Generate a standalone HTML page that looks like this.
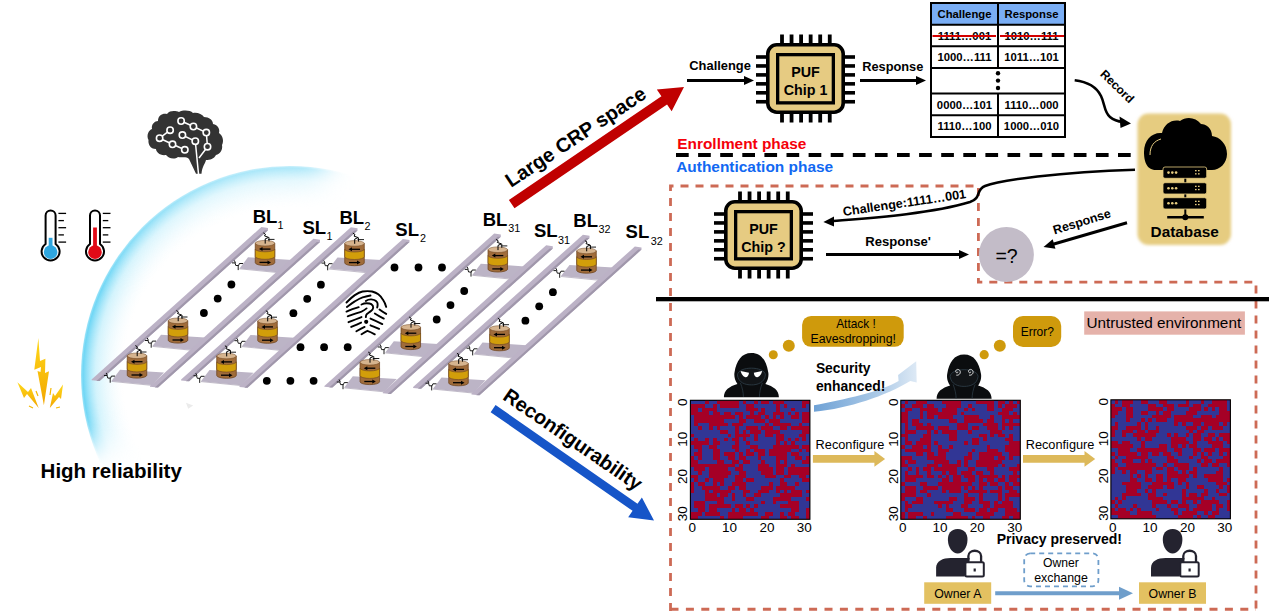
<!DOCTYPE html>
<html><head><meta charset="utf-8"><style>
html,body{margin:0;padding:0;background:#fff;width:1269px;height:611px;overflow:hidden}
svg{display:block}
text{font-family:"Liberation Sans",sans-serif}
</style></head><body>
<svg width="1269" height="611" viewBox="0 0 1269 611">
<defs>
<radialGradient id="arcg" cx="290" cy="375" r="209" gradientUnits="userSpaceOnUse">
<stop offset="0" stop-color="#fff" stop-opacity="0"/>
<stop offset="0.80" stop-color="#e8f8fe" stop-opacity="0"/>
<stop offset="0.93" stop-color="#a8e8fa" stop-opacity="0.5"/>
<stop offset="0.99" stop-color="#60d2f4" stop-opacity="0.9"/>
<stop offset="1" stop-color="#60d2f4" stop-opacity="0.6"/>
</radialGradient>
<linearGradient id="arcfade" gradientUnits="userSpaceOnUse" x1="0" y1="165" x2="0" y2="290"><stop offset="0" stop-color="#fff" stop-opacity="0.55"/><stop offset="1" stop-color="#fff" stop-opacity="1"/></linearGradient>
<filter id="mblur" x="-50%" y="-50%" width="200%" height="200%"><feGaussianBlur stdDeviation="14"/></filter>
<mask id="arcmask" maskUnits="userSpaceOnUse" x="0" y="0" width="700" height="611">
<polygon points="-50,-50 322,-50 322,185 170,440 -50,440" fill="url(#arcfade)" filter="url(#mblur)"/>
</mask>
</defs>
<circle cx="290" cy="375" r="209" fill="url(#arcg)" mask="url(#arcmask)"/>
<path d="M189,159 C186,156 182,158 178,157 C174,160 168,158 166,155 C160,156 156,152 156,149 C150,149 148,144 148.5,140 C146,135 149,130 152,129 C151,124 155,121 158,121 C158,115 163,113 167,114 C170,110 176,111 179,112 C183,110 190,110 193,113 C197,112 202,114 204,117 C209,117 213,120 213,124 C218,125 220,129 219,133 C223,136 224,141 222,145 C223,150 220,154 216,155 C214,159 210,160 206,160 C205,164 202,167 201.5,173.8 L196,173.8 Z" fill="#333"/>
<line x1="181.1" y1="121" x2="193.4" y2="126.5" stroke="#fff" stroke-width="1.5"/>
<line x1="193.4" y1="126.5" x2="206.3" y2="132.6" stroke="#fff" stroke-width="1.5"/>
<line x1="206.3" y1="132.6" x2="207.5" y2="146.7" stroke="#fff" stroke-width="1.5"/>
<line x1="170.1" y1="130.2" x2="159.6" y2="138.2" stroke="#fff" stroke-width="1.5"/>
<line x1="159.6" y1="138.2" x2="172.5" y2="144.3" stroke="#fff" stroke-width="1.5"/>
<line x1="172.5" y1="144.3" x2="184.8" y2="149.8" stroke="#fff" stroke-width="1.5"/>
<line x1="182.4" y1="135.1" x2="195.3" y2="141.2" stroke="#fff" stroke-width="1.5"/>
<path d="M195.3,141.2 L198.5,174 M207.5,146.7 L199,158" stroke="#fff" stroke-width="1.5" fill="none"/>
<circle cx="181.1" cy="121" r="3.2" fill="#333" stroke="#fff" stroke-width="1.6"/>
<circle cx="193.4" cy="126.5" r="3.2" fill="#333" stroke="#fff" stroke-width="1.6"/>
<circle cx="206.3" cy="132.6" r="3.2" fill="#333" stroke="#fff" stroke-width="1.6"/>
<circle cx="170.1" cy="130.2" r="3.2" fill="#333" stroke="#fff" stroke-width="1.6"/>
<circle cx="182.4" cy="135.1" r="3.2" fill="#333" stroke="#fff" stroke-width="1.6"/>
<circle cx="159.6" cy="138.2" r="3.2" fill="#333" stroke="#fff" stroke-width="1.6"/>
<circle cx="172.5" cy="144.3" r="3.2" fill="#333" stroke="#fff" stroke-width="1.6"/>
<circle cx="195.3" cy="141.2" r="3.2" fill="#333" stroke="#fff" stroke-width="1.6"/>
<circle cx="184.8" cy="149.8" r="3.2" fill="#333" stroke="#fff" stroke-width="1.6"/>
<circle cx="207.5" cy="146.7" r="3.2" fill="#333" stroke="#fff" stroke-width="1.6"/>
<path d="M45.6,244 L45.6,215.5 A5,5 0 0 1 55.6,215.5 L55.6,244 A9,9 0 1 1 45.6,244 Z" fill="#fff" stroke="#000" stroke-width="2"/>
<circle cx="50.6" cy="252.1" r="6.8" fill="#2ea6df"/>
<rect x="48.7" y="237.8" width="3.8" height="14.199999999999989" fill="#2ea6df"/>
<line x1="58.4" y1="213.4" x2="66.1" y2="213.4" stroke="#000" stroke-width="1.3"/>
<line x1="58.4" y1="220.6" x2="63.9" y2="220.6" stroke="#000" stroke-width="1.3"/>
<line x1="58.4" y1="227.7" x2="66.1" y2="227.7" stroke="#000" stroke-width="1.3"/>
<line x1="58.4" y1="234.9" x2="63.9" y2="234.9" stroke="#000" stroke-width="1.3"/>
<line x1="58.4" y1="242.1" x2="66.1" y2="242.1" stroke="#000" stroke-width="1.3"/>
<path d="M90,244 L90,215.5 A5,5 0 0 1 100,215.5 L100,244 A9,9 0 1 1 90,244 Z" fill="#fff" stroke="#000" stroke-width="2"/>
<circle cx="95" cy="252.1" r="6.8" fill="#e10a17"/>
<rect x="93.1" y="227.5" width="3.8" height="24.5" fill="#e10a17"/>
<line x1="102.8" y1="213.4" x2="110.5" y2="213.4" stroke="#000" stroke-width="1.3"/>
<line x1="102.8" y1="220.6" x2="108.3" y2="220.6" stroke="#000" stroke-width="1.3"/>
<line x1="102.8" y1="227.7" x2="110.5" y2="227.7" stroke="#000" stroke-width="1.3"/>
<line x1="102.8" y1="234.9" x2="108.3" y2="234.9" stroke="#000" stroke-width="1.3"/>
<line x1="102.8" y1="242.1" x2="110.5" y2="242.1" stroke="#000" stroke-width="1.3"/>
<defs><linearGradient id="ltg" x1="0" y1="0" x2="0" y2="1"><stop offset="0" stop-color="#ffd81a"/><stop offset="1" stop-color="#f2a600"/></linearGradient></defs>
<polygon points="38.4,338 34.3,369.8 41,367 40.5,372 37.5,371 43.9,405.2 49,371.3 45,373 45.4,358.7 40,361" fill="url(#ltg)"/>
<polygon points="17.4,382.3 24,398 27,394 38.7,408.1 31,388 28,392" fill="url(#ltg)"/>
<polygon points="63,384.5 55,396 53,393 49.8,408.1 59,397 61,399" fill="url(#ltg)"/>
<path d="M29,406 L33,408 M56,408 L60,407 M36,391 L38,396 M51,388 L50,395" stroke="#f5b800" stroke-width="1.2"/>
<text x="40.60" y="477.90" font-size="20.5" font-weight="bold" >High reliability</text>
<polygon points="261.40,227.00 268.00,228.00 268.00,230.20 99.60,381.00 91.60,380.20 91.60,379.40" fill="#bcb2c6" /><polygon points="264.80,230.20 268.00,230.20 99.60,381.00 96.40,381.00" fill="#a097ab" />
<polygon points="120.00,369.80 164.00,372.50 152.00,385.00 111.50,381.00" fill="#bcb4c6" /><line x1="111.50" y1="381.40" x2="152.00" y2="385.40" stroke="#a097ab" stroke-width="0.9" opacity="0.7"/>
<polygon points="161.00,334.80 205.00,337.50 193.00,350.00 152.50,346.00" fill="#bcb4c6" /><line x1="152.50" y1="346.40" x2="193.00" y2="350.40" stroke="#a097ab" stroke-width="0.9" opacity="0.7"/>
<polygon points="248.00,257.20 292.00,259.90 280.00,272.40 239.50,268.40" fill="#bcb4c6" /><line x1="239.50" y1="268.80" x2="280.00" y2="272.80" stroke="#a097ab" stroke-width="0.9" opacity="0.7"/>
<polygon points="313.40,238.70 320.00,239.70 320.00,241.90 158.00,387.50 150.00,386.70 150.00,385.90" fill="#bcb2c6" /><polygon points="316.80,241.90 320.00,241.90 158.00,387.50 154.80,387.50" fill="#a097ab" />
<path d="M104.00,375.50 h3 l0.8,2.6 h2.8 l0.8,-2 h3.6 M110.20,378.10 v4.6 M107.50,375.50 l-1.2,-2.5" fill="none" stroke="#000" stroke-width="0.9"/>
<path d="M127.25,355.80 L127.25,375.30 A9.75,2.8 0 0 0 146.75,375.30 L146.75,355.80 Z" fill="#a06c3a" stroke="#6e4520" stroke-width="0.8"/>
<path d="M127.25,361.60 A9.75,2.8 0 0 0 146.75,361.60 L146.75,369.10 A9.75,2.8 0 0 1 127.25,369.10 Z" fill="#d29e0a" stroke="#6e4520" stroke-width="0.6"/>
<ellipse cx="137.00" cy="355.80" rx="9.75" ry="2.8" fill="#d6b48e" stroke="#6e4520" stroke-width="0.5"/>
<path d="M142.50,361.70 L134.00,361.70" stroke="#000" stroke-width="1.3"/><polygon points="131.00,361.70 134.50,359.70 134.50,363.70" fill="#000"/>
<path d="M131.50,375.00 L140.00,375.00" stroke="#000" stroke-width="1.3"/><polygon points="143.00,375.00 139.50,373.00 139.50,377.00" fill="#000"/>
<path d="M135.40,345.50 L137.50,347.00 L136.50,348.50 L140.60,350.00 L137.20,351.50 L137.20,356.20" fill="none" stroke="#000" stroke-width="1"/>
<path d="M140.00,352.00 L146.50,352.00 M141.00,350.00 L141.00,354.00" fill="none" stroke="#000" stroke-width="0.9"/>
<path d="M145.00,340.50 h3 l0.8,2.6 h2.8 l0.8,-2 h3.6 M151.20,343.10 v4.6 M148.50,340.50 l-1.2,-2.5" fill="none" stroke="#000" stroke-width="0.9"/>
<path d="M168.25,320.80 L168.25,340.30 A9.75,2.8 0 0 0 187.75,340.30 L187.75,320.80 Z" fill="#a06c3a" stroke="#6e4520" stroke-width="0.8"/>
<path d="M168.25,326.60 A9.75,2.8 0 0 0 187.75,326.60 L187.75,334.10 A9.75,2.8 0 0 1 168.25,334.10 Z" fill="#d29e0a" stroke="#6e4520" stroke-width="0.6"/>
<ellipse cx="178.00" cy="320.80" rx="9.75" ry="2.8" fill="#d6b48e" stroke="#6e4520" stroke-width="0.5"/>
<path d="M183.50,326.70 L175.00,326.70" stroke="#000" stroke-width="1.3"/><polygon points="172.00,326.70 175.50,324.70 175.50,328.70" fill="#000"/>
<path d="M172.50,340.00 L181.00,340.00" stroke="#000" stroke-width="1.3"/><polygon points="184.00,340.00 180.50,338.00 180.50,342.00" fill="#000"/>
<path d="M176.40,310.50 L178.50,312.00 L177.50,313.50 L181.60,315.00 L178.20,316.50 L178.20,321.20" fill="none" stroke="#000" stroke-width="1"/>
<path d="M181.00,317.00 L187.50,317.00 M182.00,315.00 L182.00,319.00" fill="none" stroke="#000" stroke-width="0.9"/>
<path d="M232.00,262.90 h3 l0.8,2.6 h2.8 l0.8,-2 h3.6 M238.20,265.50 v4.6 M235.50,262.90 l-1.2,-2.5" fill="none" stroke="#000" stroke-width="0.9"/>
<path d="M255.25,243.20 L255.25,262.70 A9.75,2.8 0 0 0 274.75,262.70 L274.75,243.20 Z" fill="#a06c3a" stroke="#6e4520" stroke-width="0.8"/>
<path d="M255.25,249.00 A9.75,2.8 0 0 0 274.75,249.00 L274.75,256.50 A9.75,2.8 0 0 1 255.25,256.50 Z" fill="#d29e0a" stroke="#6e4520" stroke-width="0.6"/>
<ellipse cx="265.00" cy="243.20" rx="9.75" ry="2.8" fill="#d6b48e" stroke="#6e4520" stroke-width="0.5"/>
<path d="M270.50,249.10 L262.00,249.10" stroke="#000" stroke-width="1.3"/><polygon points="259.00,249.10 262.50,247.10 262.50,251.10" fill="#000"/>
<path d="M259.50,262.40 L268.00,262.40" stroke="#000" stroke-width="1.3"/><polygon points="271.00,262.40 267.50,260.40 267.50,264.40" fill="#000"/>
<path d="M263.40,232.90 L265.50,234.40 L264.50,235.90 L268.60,237.40 L265.20,238.90 L265.20,243.60" fill="none" stroke="#000" stroke-width="1"/>
<path d="M268.00,239.40 L274.50,239.40 M269.00,237.40 L269.00,241.40" fill="none" stroke="#000" stroke-width="0.9"/>
<circle cx="231.40" cy="284.50" r="3.9" fill="#000"/>
<circle cx="217.70" cy="298.60" r="3.9" fill="#000"/>
<circle cx="203.90" cy="313.00" r="3.9" fill="#000"/>
<polygon points="350.90,227.20 357.50,228.20 357.50,230.40 189.10,381.20 181.10,380.40 181.10,379.60" fill="#bcb2c6" /><polygon points="354.30,230.40 357.50,230.40 189.10,381.20 185.90,381.20" fill="#a097ab" />
<polygon points="209.50,370.00 253.50,372.70 241.50,385.20 201.00,381.20" fill="#bcb4c6" /><line x1="201.00" y1="381.60" x2="241.50" y2="385.60" stroke="#a097ab" stroke-width="0.9" opacity="0.7"/>
<polygon points="250.50,335.00 294.50,337.70 282.50,350.20 242.00,346.20" fill="#bcb4c6" /><line x1="242.00" y1="346.60" x2="282.50" y2="350.60" stroke="#a097ab" stroke-width="0.9" opacity="0.7"/>
<polygon points="337.50,257.40 381.50,260.10 369.50,272.60 329.00,268.60" fill="#bcb4c6" /><line x1="329.00" y1="269.00" x2="369.50" y2="273.00" stroke="#a097ab" stroke-width="0.9" opacity="0.7"/>
<polygon points="402.90,238.90 409.50,239.90 409.50,242.10 247.50,387.70 239.50,386.90 239.50,386.10" fill="#bcb2c6" /><polygon points="406.30,242.10 409.50,242.10 247.50,387.70 244.30,387.70" fill="#a097ab" />
<path d="M193.50,375.70 h3 l0.8,2.6 h2.8 l0.8,-2 h3.6 M199.70,378.30 v4.6 M197.00,375.70 l-1.2,-2.5" fill="none" stroke="#000" stroke-width="0.9"/>
<path d="M216.75,356.00 L216.75,375.50 A9.75,2.8 0 0 0 236.25,375.50 L236.25,356.00 Z" fill="#a06c3a" stroke="#6e4520" stroke-width="0.8"/>
<path d="M216.75,361.80 A9.75,2.8 0 0 0 236.25,361.80 L236.25,369.30 A9.75,2.8 0 0 1 216.75,369.30 Z" fill="#d29e0a" stroke="#6e4520" stroke-width="0.6"/>
<ellipse cx="226.50" cy="356.00" rx="9.75" ry="2.8" fill="#d6b48e" stroke="#6e4520" stroke-width="0.5"/>
<path d="M232.00,361.90 L223.50,361.90" stroke="#000" stroke-width="1.3"/><polygon points="220.50,361.90 224.00,359.90 224.00,363.90" fill="#000"/>
<path d="M221.00,375.20 L229.50,375.20" stroke="#000" stroke-width="1.3"/><polygon points="232.50,375.20 229.00,373.20 229.00,377.20" fill="#000"/>
<path d="M224.90,345.70 L227.00,347.20 L226.00,348.70 L230.10,350.20 L226.70,351.70 L226.70,356.40" fill="none" stroke="#000" stroke-width="1"/>
<path d="M229.50,352.20 L236.00,352.20 M230.50,350.20 L230.50,354.20" fill="none" stroke="#000" stroke-width="0.9"/>
<path d="M234.50,340.70 h3 l0.8,2.6 h2.8 l0.8,-2 h3.6 M240.70,343.30 v4.6 M238.00,340.70 l-1.2,-2.5" fill="none" stroke="#000" stroke-width="0.9"/>
<path d="M257.75,321.00 L257.75,340.50 A9.75,2.8 0 0 0 277.25,340.50 L277.25,321.00 Z" fill="#a06c3a" stroke="#6e4520" stroke-width="0.8"/>
<path d="M257.75,326.80 A9.75,2.8 0 0 0 277.25,326.80 L277.25,334.30 A9.75,2.8 0 0 1 257.75,334.30 Z" fill="#d29e0a" stroke="#6e4520" stroke-width="0.6"/>
<ellipse cx="267.50" cy="321.00" rx="9.75" ry="2.8" fill="#d6b48e" stroke="#6e4520" stroke-width="0.5"/>
<path d="M273.00,326.90 L264.50,326.90" stroke="#000" stroke-width="1.3"/><polygon points="261.50,326.90 265.00,324.90 265.00,328.90" fill="#000"/>
<path d="M262.00,340.20 L270.50,340.20" stroke="#000" stroke-width="1.3"/><polygon points="273.50,340.20 270.00,338.20 270.00,342.20" fill="#000"/>
<path d="M265.90,310.70 L268.00,312.20 L267.00,313.70 L271.10,315.20 L267.70,316.70 L267.70,321.40" fill="none" stroke="#000" stroke-width="1"/>
<path d="M270.50,317.20 L277.00,317.20 M271.50,315.20 L271.50,319.20" fill="none" stroke="#000" stroke-width="0.9"/>
<path d="M321.50,263.10 h3 l0.8,2.6 h2.8 l0.8,-2 h3.6 M327.70,265.70 v4.6 M325.00,263.10 l-1.2,-2.5" fill="none" stroke="#000" stroke-width="0.9"/>
<path d="M344.75,243.40 L344.75,262.90 A9.75,2.8 0 0 0 364.25,262.90 L364.25,243.40 Z" fill="#a06c3a" stroke="#6e4520" stroke-width="0.8"/>
<path d="M344.75,249.20 A9.75,2.8 0 0 0 364.25,249.20 L364.25,256.70 A9.75,2.8 0 0 1 344.75,256.70 Z" fill="#d29e0a" stroke="#6e4520" stroke-width="0.6"/>
<ellipse cx="354.50" cy="243.40" rx="9.75" ry="2.8" fill="#d6b48e" stroke="#6e4520" stroke-width="0.5"/>
<path d="M360.00,249.30 L351.50,249.30" stroke="#000" stroke-width="1.3"/><polygon points="348.50,249.30 352.00,247.30 352.00,251.30" fill="#000"/>
<path d="M349.00,262.60 L357.50,262.60" stroke="#000" stroke-width="1.3"/><polygon points="360.50,262.60 357.00,260.60 357.00,264.60" fill="#000"/>
<path d="M352.90,233.10 L355.00,234.60 L354.00,236.10 L358.10,237.60 L354.70,239.10 L354.70,243.80" fill="none" stroke="#000" stroke-width="1"/>
<path d="M357.50,239.60 L364.00,239.60 M358.50,237.60 L358.50,241.60" fill="none" stroke="#000" stroke-width="0.9"/>
<circle cx="320.90" cy="284.70" r="3.9" fill="#000"/>
<circle cx="307.20" cy="298.80" r="3.9" fill="#000"/>
<circle cx="293.40" cy="313.20" r="3.9" fill="#000"/>
<polygon points="494.20,233.50 500.80,234.50 500.80,236.70 332.40,387.50 324.40,386.70 324.40,385.90" fill="#bcb2c6" /><polygon points="497.60,236.70 500.80,236.70 332.40,387.50 329.20,387.50" fill="#a097ab" />
<polygon points="352.80,376.30 396.80,379.00 384.80,391.50 344.30,387.50" fill="#bcb4c6" /><line x1="344.30" y1="387.90" x2="384.80" y2="391.90" stroke="#a097ab" stroke-width="0.9" opacity="0.7"/>
<polygon points="393.80,341.30 437.80,344.00 425.80,356.50 385.30,352.50" fill="#bcb4c6" /><line x1="385.30" y1="352.90" x2="425.80" y2="356.90" stroke="#a097ab" stroke-width="0.9" opacity="0.7"/>
<polygon points="480.80,263.70 524.80,266.40 512.80,278.90 472.30,274.90" fill="#bcb4c6" /><line x1="472.30" y1="275.30" x2="512.80" y2="279.30" stroke="#a097ab" stroke-width="0.9" opacity="0.7"/>
<polygon points="546.20,245.20 552.80,246.20 552.80,248.40 390.80,394.00 382.80,393.20 382.80,392.40" fill="#bcb2c6" /><polygon points="549.60,248.40 552.80,248.40 390.80,394.00 387.60,394.00" fill="#a097ab" />
<path d="M336.80,382.00 h3 l0.8,2.6 h2.8 l0.8,-2 h3.6 M343.00,384.60 v4.6 M340.30,382.00 l-1.2,-2.5" fill="none" stroke="#000" stroke-width="0.9"/>
<path d="M360.05,362.30 L360.05,381.80 A9.75,2.8 0 0 0 379.55,381.80 L379.55,362.30 Z" fill="#a06c3a" stroke="#6e4520" stroke-width="0.8"/>
<path d="M360.05,368.10 A9.75,2.8 0 0 0 379.55,368.10 L379.55,375.60 A9.75,2.8 0 0 1 360.05,375.60 Z" fill="#d29e0a" stroke="#6e4520" stroke-width="0.6"/>
<ellipse cx="369.80" cy="362.30" rx="9.75" ry="2.8" fill="#d6b48e" stroke="#6e4520" stroke-width="0.5"/>
<path d="M375.30,368.20 L366.80,368.20" stroke="#000" stroke-width="1.3"/><polygon points="363.80,368.20 367.30,366.20 367.30,370.20" fill="#000"/>
<path d="M364.30,381.50 L372.80,381.50" stroke="#000" stroke-width="1.3"/><polygon points="375.80,381.50 372.30,379.50 372.30,383.50" fill="#000"/>
<path d="M368.20,352.00 L370.30,353.50 L369.30,355.00 L373.40,356.50 L370.00,358.00 L370.00,362.70" fill="none" stroke="#000" stroke-width="1"/>
<path d="M372.80,358.50 L379.30,358.50 M373.80,356.50 L373.80,360.50" fill="none" stroke="#000" stroke-width="0.9"/>
<path d="M377.80,347.00 h3 l0.8,2.6 h2.8 l0.8,-2 h3.6 M384.00,349.60 v4.6 M381.30,347.00 l-1.2,-2.5" fill="none" stroke="#000" stroke-width="0.9"/>
<path d="M401.05,327.30 L401.05,346.80 A9.75,2.8 0 0 0 420.55,346.80 L420.55,327.30 Z" fill="#a06c3a" stroke="#6e4520" stroke-width="0.8"/>
<path d="M401.05,333.10 A9.75,2.8 0 0 0 420.55,333.10 L420.55,340.60 A9.75,2.8 0 0 1 401.05,340.60 Z" fill="#d29e0a" stroke="#6e4520" stroke-width="0.6"/>
<ellipse cx="410.80" cy="327.30" rx="9.75" ry="2.8" fill="#d6b48e" stroke="#6e4520" stroke-width="0.5"/>
<path d="M416.30,333.20 L407.80,333.20" stroke="#000" stroke-width="1.3"/><polygon points="404.80,333.20 408.30,331.20 408.30,335.20" fill="#000"/>
<path d="M405.30,346.50 L413.80,346.50" stroke="#000" stroke-width="1.3"/><polygon points="416.80,346.50 413.30,344.50 413.30,348.50" fill="#000"/>
<path d="M409.20,317.00 L411.30,318.50 L410.30,320.00 L414.40,321.50 L411.00,323.00 L411.00,327.70" fill="none" stroke="#000" stroke-width="1"/>
<path d="M413.80,323.50 L420.30,323.50 M414.80,321.50 L414.80,325.50" fill="none" stroke="#000" stroke-width="0.9"/>
<path d="M464.80,269.40 h3 l0.8,2.6 h2.8 l0.8,-2 h3.6 M471.00,272.00 v4.6 M468.30,269.40 l-1.2,-2.5" fill="none" stroke="#000" stroke-width="0.9"/>
<path d="M488.05,249.70 L488.05,269.20 A9.75,2.8 0 0 0 507.55,269.20 L507.55,249.70 Z" fill="#a06c3a" stroke="#6e4520" stroke-width="0.8"/>
<path d="M488.05,255.50 A9.75,2.8 0 0 0 507.55,255.50 L507.55,263.00 A9.75,2.8 0 0 1 488.05,263.00 Z" fill="#d29e0a" stroke="#6e4520" stroke-width="0.6"/>
<ellipse cx="497.80" cy="249.70" rx="9.75" ry="2.8" fill="#d6b48e" stroke="#6e4520" stroke-width="0.5"/>
<path d="M503.30,255.60 L494.80,255.60" stroke="#000" stroke-width="1.3"/><polygon points="491.80,255.60 495.30,253.60 495.30,257.60" fill="#000"/>
<path d="M492.30,268.90 L500.80,268.90" stroke="#000" stroke-width="1.3"/><polygon points="503.80,268.90 500.30,266.90 500.30,270.90" fill="#000"/>
<path d="M496.20,239.40 L498.30,240.90 L497.30,242.40 L501.40,243.90 L498.00,245.40 L498.00,250.10" fill="none" stroke="#000" stroke-width="1"/>
<path d="M500.80,245.90 L507.30,245.90 M501.80,243.90 L501.80,247.90" fill="none" stroke="#000" stroke-width="0.9"/>
<circle cx="464.20" cy="291.00" r="3.9" fill="#000"/>
<circle cx="450.50" cy="305.10" r="3.9" fill="#000"/>
<circle cx="436.70" cy="319.50" r="3.9" fill="#000"/>
<polygon points="582.90,234.70 589.50,235.70 589.50,237.90 421.10,388.70 413.10,387.90 413.10,387.10" fill="#bcb2c6" /><polygon points="586.30,237.90 589.50,237.90 421.10,388.70 417.90,388.70" fill="#a097ab" />
<polygon points="441.50,377.50 485.50,380.20 473.50,392.70 433.00,388.70" fill="#bcb4c6" /><line x1="433.00" y1="389.10" x2="473.50" y2="393.10" stroke="#a097ab" stroke-width="0.9" opacity="0.7"/>
<polygon points="482.50,342.50 526.50,345.20 514.50,357.70 474.00,353.70" fill="#bcb4c6" /><line x1="474.00" y1="354.10" x2="514.50" y2="358.10" stroke="#a097ab" stroke-width="0.9" opacity="0.7"/>
<polygon points="569.50,264.90 613.50,267.60 601.50,280.10 561.00,276.10" fill="#bcb4c6" /><line x1="561.00" y1="276.50" x2="601.50" y2="280.50" stroke="#a097ab" stroke-width="0.9" opacity="0.7"/>
<polygon points="634.90,246.40 641.50,247.40 641.50,249.60 479.50,395.20 471.50,394.40 471.50,393.60" fill="#bcb2c6" /><polygon points="638.30,249.60 641.50,249.60 479.50,395.20 476.30,395.20" fill="#a097ab" />
<path d="M425.50,383.20 h3 l0.8,2.6 h2.8 l0.8,-2 h3.6 M431.70,385.80 v4.6 M429.00,383.20 l-1.2,-2.5" fill="none" stroke="#000" stroke-width="0.9"/>
<path d="M448.75,363.50 L448.75,383.00 A9.75,2.8 0 0 0 468.25,383.00 L468.25,363.50 Z" fill="#a06c3a" stroke="#6e4520" stroke-width="0.8"/>
<path d="M448.75,369.30 A9.75,2.8 0 0 0 468.25,369.30 L468.25,376.80 A9.75,2.8 0 0 1 448.75,376.80 Z" fill="#d29e0a" stroke="#6e4520" stroke-width="0.6"/>
<ellipse cx="458.50" cy="363.50" rx="9.75" ry="2.8" fill="#d6b48e" stroke="#6e4520" stroke-width="0.5"/>
<path d="M464.00,369.40 L455.50,369.40" stroke="#000" stroke-width="1.3"/><polygon points="452.50,369.40 456.00,367.40 456.00,371.40" fill="#000"/>
<path d="M453.00,382.70 L461.50,382.70" stroke="#000" stroke-width="1.3"/><polygon points="464.50,382.70 461.00,380.70 461.00,384.70" fill="#000"/>
<path d="M456.90,353.20 L459.00,354.70 L458.00,356.20 L462.10,357.70 L458.70,359.20 L458.70,363.90" fill="none" stroke="#000" stroke-width="1"/>
<path d="M461.50,359.70 L468.00,359.70 M462.50,357.70 L462.50,361.70" fill="none" stroke="#000" stroke-width="0.9"/>
<path d="M466.50,348.20 h3 l0.8,2.6 h2.8 l0.8,-2 h3.6 M472.70,350.80 v4.6 M470.00,348.20 l-1.2,-2.5" fill="none" stroke="#000" stroke-width="0.9"/>
<path d="M489.75,328.50 L489.75,348.00 A9.75,2.8 0 0 0 509.25,348.00 L509.25,328.50 Z" fill="#a06c3a" stroke="#6e4520" stroke-width="0.8"/>
<path d="M489.75,334.30 A9.75,2.8 0 0 0 509.25,334.30 L509.25,341.80 A9.75,2.8 0 0 1 489.75,341.80 Z" fill="#d29e0a" stroke="#6e4520" stroke-width="0.6"/>
<ellipse cx="499.50" cy="328.50" rx="9.75" ry="2.8" fill="#d6b48e" stroke="#6e4520" stroke-width="0.5"/>
<path d="M505.00,334.40 L496.50,334.40" stroke="#000" stroke-width="1.3"/><polygon points="493.50,334.40 497.00,332.40 497.00,336.40" fill="#000"/>
<path d="M494.00,347.70 L502.50,347.70" stroke="#000" stroke-width="1.3"/><polygon points="505.50,347.70 502.00,345.70 502.00,349.70" fill="#000"/>
<path d="M497.90,318.20 L500.00,319.70 L499.00,321.20 L503.10,322.70 L499.70,324.20 L499.70,328.90" fill="none" stroke="#000" stroke-width="1"/>
<path d="M502.50,324.70 L509.00,324.70 M503.50,322.70 L503.50,326.70" fill="none" stroke="#000" stroke-width="0.9"/>
<path d="M553.50,270.60 h3 l0.8,2.6 h2.8 l0.8,-2 h3.6 M559.70,273.20 v4.6 M557.00,270.60 l-1.2,-2.5" fill="none" stroke="#000" stroke-width="0.9"/>
<path d="M576.75,250.90 L576.75,270.40 A9.75,2.8 0 0 0 596.25,270.40 L596.25,250.90 Z" fill="#a06c3a" stroke="#6e4520" stroke-width="0.8"/>
<path d="M576.75,256.70 A9.75,2.8 0 0 0 596.25,256.70 L596.25,264.20 A9.75,2.8 0 0 1 576.75,264.20 Z" fill="#d29e0a" stroke="#6e4520" stroke-width="0.6"/>
<ellipse cx="586.50" cy="250.90" rx="9.75" ry="2.8" fill="#d6b48e" stroke="#6e4520" stroke-width="0.5"/>
<path d="M592.00,256.80 L583.50,256.80" stroke="#000" stroke-width="1.3"/><polygon points="580.50,256.80 584.00,254.80 584.00,258.80" fill="#000"/>
<path d="M581.00,270.10 L589.50,270.10" stroke="#000" stroke-width="1.3"/><polygon points="592.50,270.10 589.00,268.10 589.00,272.10" fill="#000"/>
<path d="M584.90,240.60 L587.00,242.10 L586.00,243.60 L590.10,245.10 L586.70,246.60 L586.70,251.30" fill="none" stroke="#000" stroke-width="1"/>
<path d="M589.50,247.10 L596.00,247.10 M590.50,245.10 L590.50,249.10" fill="none" stroke="#000" stroke-width="0.9"/>
<circle cx="552.90" cy="292.20" r="3.9" fill="#000"/>
<circle cx="539.20" cy="306.30" r="3.9" fill="#000"/>
<circle cx="525.40" cy="320.70" r="3.9" fill="#000"/>
<text x="252.70" y="222.90" font-size="18.5" font-weight="bold" >BL</text>
<text x="277.50" y="228.90" font-size="10.8" >1</text>
<text x="302.50" y="234.40" font-size="18.5" font-weight="bold" >SL</text>
<text x="326.60" y="240.40" font-size="10.8" >1</text>
<text x="339.50" y="223.60" font-size="18.5" font-weight="bold" >BL</text>
<text x="364.50" y="230.00" font-size="10.8" >2</text>
<text x="395.30" y="235.60" font-size="18.5" font-weight="bold" >SL</text>
<text x="419.90" y="241.90" font-size="10.8" >2</text>
<text x="482.70" y="225.70" font-size="18.5" font-weight="bold" >BL</text>
<text x="508.30" y="232.20" font-size="10.8" >31</text>
<text x="534.00" y="237.40" font-size="18.5" font-weight="bold" >SL</text>
<text x="558.00" y="244.20" font-size="10.8" >31</text>
<text x="573.30" y="227.20" font-size="18.5" font-weight="bold" >BL</text>
<text x="598.40" y="233.20" font-size="10.8" >32</text>
<text x="625.60" y="238.20" font-size="18.5" font-weight="bold" >SL</text>
<text x="650.80" y="244.50" font-size="10.8" >32</text>
<circle cx="394.5" cy="267.5" r="3.9" fill="#000"/>
<circle cx="418.5" cy="267.5" r="3.9" fill="#000"/>
<circle cx="442" cy="267.5" r="3.9" fill="#000"/>
<circle cx="300.5" cy="347.2" r="3.9" fill="#000"/>
<circle cx="324.1" cy="347.2" r="3.9" fill="#000"/>
<circle cx="347.7" cy="347.2" r="3.9" fill="#000"/>
<circle cx="266.8" cy="380.8" r="3.9" fill="#000"/>
<circle cx="290.4" cy="380.8" r="3.9" fill="#000"/>
<circle cx="313.6" cy="380.8" r="3.9" fill="#000"/>
<path d="M346.5,302.5 C349.5,299.5 352,297 354.8,295.1 C357.5,293.3 360,292 362.6,291.5 C366,291 369,291 372.1,291.5 C374.5,292.2 376.5,293 378.3,294.3 C380.5,296 382,297.8 383,299.8 C384.5,302 385.5,304.5 386.2,306.9" fill="none" stroke="#000" stroke-width="1.9" stroke-linecap="round" stroke-linejoin="round"/>
<path d="M346.9,306.9 C349.5,305 352,303 354.8,301.4 C357.5,299.8 360,298.3 362.6,297.4 C365.5,296.5 368,295.8 370.5,295.5" fill="none" stroke="#000" stroke-width="1.9" stroke-linecap="round" stroke-linejoin="round"/>
<path d="M365.8,301 C367.5,299.8 369.5,299.3 371.3,299.4 C373.5,299.6 375,300 376,301 C377.2,302 377.6,302.8 377.6,303.7 C377.7,305 377.5,306.5 377.2,307.6" fill="none" stroke="#000" stroke-width="1.9" stroke-linecap="round" stroke-linejoin="round"/>
<path d="M346.5,311.6 C348.5,310.7 350.5,309.9 352.4,309.2 C354.5,308.5 356.7,307.8 358.7,307.2" fill="none" stroke="#000" stroke-width="1.9" stroke-linecap="round" stroke-linejoin="round"/>
<path d="M361.5,304.5 C363,303.8 365,303.3 366.6,303.3 C368.5,303.3 370.3,303.5 371.3,304.1 C372.7,305 373.3,306.3 373.2,307.6 C373,309 372.3,310 371.3,310.8 C369.8,312 368.2,313 367,313.9 C366.2,314.8 365.9,316 365.8,317.1" fill="none" stroke="#000" stroke-width="1.9" stroke-linecap="round" stroke-linejoin="round"/>
<path d="M347.7,316.3 C352,314.8 357,313 361.5,311.6 C363.3,310.8 365.2,309.6 366.6,308.4" fill="none" stroke="#000" stroke-width="1.9" stroke-linecap="round" stroke-linejoin="round"/>
<path d="M348.5,322.2 C352.5,320.6 357,318.8 361.5,317.1" fill="none" stroke="#000" stroke-width="1.9" stroke-linecap="round" stroke-linejoin="round"/>
<path d="M351.2,326.9 C354.5,325.5 358,324 361.1,322.6" fill="none" stroke="#000" stroke-width="1.9" stroke-linecap="round" stroke-linejoin="round"/>
<path d="M356.4,331.2 C359,329.7 362,328.2 364.6,326.9" fill="none" stroke="#000" stroke-width="1.9" stroke-linecap="round" stroke-linejoin="round"/>
<path d="M379.5,309.6 C381.5,311.2 383.8,312.6 386.2,313.9" fill="none" stroke="#000" stroke-width="1.9" stroke-linecap="round" stroke-linejoin="round"/>
<path d="M374.8,313.5 C377.5,315.3 380.5,317 383.8,318.6" fill="none" stroke="#000" stroke-width="1.9" stroke-linecap="round" stroke-linejoin="round"/>
<path d="M370.5,318.6 C374.5,320.3 378.5,322.2 382.3,324.1" fill="none" stroke="#000" stroke-width="1.9" stroke-linecap="round" stroke-linejoin="round"/>
<path d="M370.5,325.3 C373.5,326.5 376.5,327.6 379.1,328.8" fill="none" stroke="#000" stroke-width="1.9" stroke-linecap="round" stroke-linejoin="round"/>
<path d="M361.5,334.3 C363.5,333 365.5,331.5 367.4,330.8 C369.8,331.6 372.5,333 374.8,334.3" fill="none" stroke="#000" stroke-width="1.9" stroke-linecap="round" stroke-linejoin="round"/>
<circle cx="366.2" cy="321.8" r="2.1" fill="#000"/>
<polygon points="186,402.8 193.2,405.6 188.2,408.8" fill="#ebebeb"/>
<polygon points="514.51,208.33 667.05,104.58 671.66,111.36 684.00,87.00 656.81,89.53 661.43,96.31 508.89,200.07" fill="#c00000" />
<text transform="translate(511,188) rotate(-33.6)" font-size="20" font-weight="bold">Large CRP space</text>
<polygon points="490.64,412.13 632.58,510.84 628.18,517.16 654.00,520.50 641.89,497.46 637.49,503.78 495.56,405.07" fill="#1655c8" />
<text transform="translate(501.7,398.8) rotate(34.5)" font-size="20" font-weight="bold">Reconfigurability</text>
<rect x="780.10" y="34.50" width="3.8" height="10.5" fill="#000"/>
<rect x="780.10" y="112.00" width="3.8" height="10.5" fill="#000"/>
<rect x="789.65" y="34.50" width="3.8" height="10.5" fill="#000"/>
<rect x="789.65" y="112.00" width="3.8" height="10.5" fill="#000"/>
<rect x="799.20" y="34.50" width="3.8" height="10.5" fill="#000"/>
<rect x="799.20" y="112.00" width="3.8" height="10.5" fill="#000"/>
<rect x="808.75" y="34.50" width="3.8" height="10.5" fill="#000"/>
<rect x="808.75" y="112.00" width="3.8" height="10.5" fill="#000"/>
<rect x="818.30" y="34.50" width="3.8" height="10.5" fill="#000"/>
<rect x="818.30" y="112.00" width="3.8" height="10.5" fill="#000"/>
<rect x="827.85" y="34.50" width="3.8" height="10.5" fill="#000"/>
<rect x="827.85" y="112.00" width="3.8" height="10.5" fill="#000"/>
<rect x="756.00" y="55.20" width="12" height="3.6" fill="#000"/>
<rect x="843.00" y="55.20" width="12" height="3.6" fill="#000"/>
<rect x="756.00" y="64.15" width="12" height="3.6" fill="#000"/>
<rect x="843.00" y="64.15" width="12" height="3.6" fill="#000"/>
<rect x="756.00" y="73.10" width="12" height="3.6" fill="#000"/>
<rect x="843.00" y="73.10" width="12" height="3.6" fill="#000"/>
<rect x="756.00" y="82.05" width="12" height="3.6" fill="#000"/>
<rect x="843.00" y="82.05" width="12" height="3.6" fill="#000"/>
<rect x="756.00" y="91.00" width="12" height="3.6" fill="#000"/>
<rect x="843.00" y="91.00" width="12" height="3.6" fill="#000"/>
<rect x="756.00" y="99.95" width="12" height="3.6" fill="#000"/>
<rect x="843.00" y="99.95" width="12" height="3.6" fill="#000"/>
<rect x="767.80" y="44.80" width="75.40" height="67.40" rx="9" ry="9" fill="#e6cb82" stroke="#000" stroke-width="3.6"/>
<rect x="777.65" y="54.65" width="55.70" height="48.20" fill="none" stroke="#000" stroke-width="3.3"/>
<text x="805.50" y="77.00" font-size="14.3" font-weight="bold" text-anchor="middle" >PUF</text>
<text x="805.50" y="95.40" font-size="14.3" font-weight="bold" text-anchor="middle" >Chip 1</text>
<rect x="738.10" y="191.50" width="3.8" height="10.5" fill="#000"/>
<rect x="738.10" y="268.00" width="3.8" height="10.5" fill="#000"/>
<rect x="747.65" y="191.50" width="3.8" height="10.5" fill="#000"/>
<rect x="747.65" y="268.00" width="3.8" height="10.5" fill="#000"/>
<rect x="757.20" y="191.50" width="3.8" height="10.5" fill="#000"/>
<rect x="757.20" y="268.00" width="3.8" height="10.5" fill="#000"/>
<rect x="766.75" y="191.50" width="3.8" height="10.5" fill="#000"/>
<rect x="766.75" y="268.00" width="3.8" height="10.5" fill="#000"/>
<rect x="776.30" y="191.50" width="3.8" height="10.5" fill="#000"/>
<rect x="776.30" y="268.00" width="3.8" height="10.5" fill="#000"/>
<rect x="785.85" y="191.50" width="3.8" height="10.5" fill="#000"/>
<rect x="785.85" y="268.00" width="3.8" height="10.5" fill="#000"/>
<rect x="714.00" y="212.20" width="12" height="3.6" fill="#000"/>
<rect x="801.00" y="212.20" width="12" height="3.6" fill="#000"/>
<rect x="714.00" y="221.15" width="12" height="3.6" fill="#000"/>
<rect x="801.00" y="221.15" width="12" height="3.6" fill="#000"/>
<rect x="714.00" y="230.10" width="12" height="3.6" fill="#000"/>
<rect x="801.00" y="230.10" width="12" height="3.6" fill="#000"/>
<rect x="714.00" y="239.05" width="12" height="3.6" fill="#000"/>
<rect x="801.00" y="239.05" width="12" height="3.6" fill="#000"/>
<rect x="714.00" y="248.00" width="12" height="3.6" fill="#000"/>
<rect x="801.00" y="248.00" width="12" height="3.6" fill="#000"/>
<rect x="714.00" y="256.95" width="12" height="3.6" fill="#000"/>
<rect x="801.00" y="256.95" width="12" height="3.6" fill="#000"/>
<rect x="725.80" y="201.80" width="75.40" height="66.40" rx="9" ry="9" fill="#e6cb82" stroke="#000" stroke-width="3.6"/>
<rect x="735.65" y="211.65" width="55.70" height="47.20" fill="none" stroke="#000" stroke-width="3.3"/>
<text x="763.50" y="234.00" font-size="14.3" font-weight="bold" text-anchor="middle" >PUF</text>
<text x="763.50" y="252.40" font-size="14.3" font-weight="bold" text-anchor="middle" >Chip ?</text>
<text x="689.30" y="70.20" font-size="12.9" font-weight="bold" >Challenge</text>
<line x1="687.00" y1="80.50" x2="745.00" y2="80.50" stroke="#000" stroke-width="3"/><polygon points="754.00,80.50 744.00,85.00 744.00,76.00" fill="#000"/>
<text x="862.20" y="70.80" font-size="12.8" font-weight="bold" >Response</text>
<line x1="860.00" y1="80.50" x2="917.00" y2="80.50" stroke="#000" stroke-width="3"/><polygon points="926.00,80.50 916.00,85.00 916.00,76.00" fill="#000"/>
<rect x="931" y="3" width="134" height="21.7" fill="#7aaef5"/>
<rect x="931" y="3" width="134" height="134" fill="none" stroke="#000" stroke-width="2"/>
<line x1="931" y1="24.7" x2="1065" y2="24.7" stroke="#000" stroke-width="2"/>
<line x1="931" y1="46.3" x2="1065" y2="46.3" stroke="#000" stroke-width="2"/>
<line x1="931" y1="68" x2="1065" y2="68" stroke="#000" stroke-width="2"/>
<line x1="931" y1="93.5" x2="1065" y2="93.5" stroke="#000" stroke-width="2"/>
<line x1="931" y1="115.2" x2="1065" y2="115.2" stroke="#000" stroke-width="2"/>
<line x1="998" y1="3" x2="998" y2="68" stroke="#000" stroke-width="2"/>
<line x1="998" y1="93.5" x2="998" y2="137" stroke="#000" stroke-width="2"/>
<text x="964.50" y="17.80" font-size="11.3" font-weight="bold" text-anchor="middle" >Challenge</text>
<text x="1031.50" y="17.80" font-size="11.3" font-weight="bold" text-anchor="middle" >Response</text>
<text x="964.50" y="39.70" font-size="11.3" font-weight="bold" text-anchor="middle" >1111…001</text>
<text x="1031.50" y="39.70" font-size="11.3" font-weight="bold" text-anchor="middle" >1010…111</text>
<line x1="932.5" y1="36" x2="996" y2="36" stroke="#d40000" stroke-width="1.8"/>
<line x1="1000" y1="36" x2="1064" y2="36" stroke="#d40000" stroke-width="1.8"/>
<text x="964.50" y="61.30" font-size="11.3" font-weight="bold" text-anchor="middle" >1000…111</text>
<text x="1031.50" y="61.30" font-size="11.3" font-weight="bold" text-anchor="middle" >1011…101</text>
<circle cx="998" cy="73.3" r="2.2" fill="#000"/>
<circle cx="998" cy="80.6" r="2.2" fill="#000"/>
<circle cx="998" cy="88" r="2.2" fill="#000"/>
<text x="964.50" y="108.50" font-size="11.3" font-weight="bold" text-anchor="middle" >0000…101</text>
<text x="1031.50" y="108.50" font-size="11.3" font-weight="bold" text-anchor="middle" >1110…000</text>
<text x="964.50" y="130.10" font-size="11.3" font-weight="bold" text-anchor="middle" >1110…100</text>
<text x="1031.50" y="130.10" font-size="11.3" font-weight="bold" text-anchor="middle" >1000…010</text>
<text x="677.30" y="148.80" font-size="15.4" font-weight="bold" fill="#f5000a" >Enrollment phase</text>
<line x1="676" y1="155" x2="1140" y2="155" stroke="#000" stroke-width="3.8" stroke-dasharray="12.7 9.4"/>
<text x="676.20" y="171.50" font-size="15.45" font-weight="bold" fill="#1168f2" >Authentication phase</text>
<path d="M670.5,611 L670.5,186 L978.4,186 L978.4,282.2 L1256,282.2 L1256,611" fill="none" stroke="#cd6a55" stroke-width="2.8" stroke-dasharray="8 7"/>
<line x1="670.5" y1="609.3" x2="1256" y2="609.3" stroke="#cd6a55" stroke-width="3" stroke-dasharray="8 7.4"/>
<rect x="656" y="297" width="613" height="4.3" fill="#000"/>
<circle cx="1006.4" cy="254.5" r="27.5" fill="#c3bcc8"/>
<text x="1006.50" y="262.60" font-size="19.5" text-anchor="middle" >=?</text>
<text x="865.20" y="245.50" font-size="13.1" font-weight="bold" >Response'</text>
<line x1="826.00" y1="254.60" x2="960.00" y2="254.60" stroke="#000" stroke-width="3"/><polygon points="969.00,254.60 959.00,259.10 959.00,250.10" fill="#000"/>
<path d="M1135,169.7 C1060,172 1000,180 985,186 C975,190 982,198 970,202 C930,214 870,218 833,221" fill="none" stroke="#000" stroke-width="2.6"/>
<polygon points="823.4,222 834,216.5 834,226.5" fill="#000"/>
<text transform="translate(843.5,216) rotate(-8.3)" font-size="12.65" font-weight="bold">Challenge:1111…001</text>
<line x1="1127.00" y1="222.80" x2="1053.10" y2="244.22" stroke="#000" stroke-width="3"/><polygon points="1043.50,247.00 1052.67,239.14 1055.46,248.74" fill="#000"/>
<text transform="translate(1054.5,234.5) rotate(-17)" font-size="12.5" font-weight="bold">Response</text>
<path d="M1074.7,80.3 C1085,81.5 1096,86 1101,96 C1105,104 1104,112 1110,117 C1114,120.5 1118,121.5 1123,122" fill="none" stroke="#000" stroke-width="2.6"/>
<polygon points="1131,123.5 1119.5,116.5 1120.5,128" fill="#000"/>
<text transform="translate(1099.5,75) rotate(44)" font-size="12" font-weight="bold">Record</text>
<defs><filter id="dbblur" x="-10%" y="-10%" width="120%" height="120%"><feGaussianBlur stdDeviation="1.6"/></filter></defs>
<rect x="1137.5" y="113.5" width="93.5" height="131.5" rx="11" fill="#e6cc80" filter="url(#dbblur)"/>
<path d="M1156,170 C1146,170 1144,160 1144,152 C1144,140 1152,132 1162,133 C1164,124 1172,119 1180,121 C1186,116 1196,117 1201,124 C1206,124 1212,128 1212,136 C1220,137 1227,144 1227,154 C1227,163 1220,170 1212,170 Z" fill="#000"/>
<path d="M1150,155 C1150,146 1154,141 1161,139" fill="none" stroke="#e6cc80" stroke-width="1"/>
<line x1="1185.3" y1="170" x2="1185.3" y2="217" stroke="#000" stroke-width="2"/>
<rect x="1163" y="167" width="43.7" height="11.3" rx="2" fill="#000" stroke="#e6cc80" stroke-width="0.8"/>
<circle cx="1168.5" cy="172.6" r="1.3" fill="#e6cc80"/>
<circle cx="1172.3" cy="172.6" r="1.3" fill="#e6cc80"/>
<circle cx="1176.1" cy="172.6" r="1.3" fill="#e6cc80"/>
<rect x="1195.0" y="170.0" width="1.6" height="1.3" fill="#e6cc80"/>
<rect x="1195.0" y="173.2" width="1.6" height="1.3" fill="#e6cc80"/>
<rect x="1198.0" y="170.0" width="1.6" height="1.3" fill="#e6cc80"/>
<rect x="1198.0" y="173.2" width="1.6" height="1.3" fill="#e6cc80"/>
<rect x="1163" y="182.7" width="43.7" height="11.3" rx="2" fill="#000" stroke="#e6cc80" stroke-width="0.8"/>
<circle cx="1168.5" cy="188.3" r="1.3" fill="#e6cc80"/>
<circle cx="1172.3" cy="188.3" r="1.3" fill="#e6cc80"/>
<circle cx="1176.1" cy="188.3" r="1.3" fill="#e6cc80"/>
<rect x="1195.0" y="185.7" width="1.6" height="1.3" fill="#e6cc80"/>
<rect x="1195.0" y="188.9" width="1.6" height="1.3" fill="#e6cc80"/>
<rect x="1198.0" y="185.7" width="1.6" height="1.3" fill="#e6cc80"/>
<rect x="1198.0" y="188.9" width="1.6" height="1.3" fill="#e6cc80"/>
<rect x="1163" y="197.7" width="43.7" height="11.3" rx="2" fill="#000" stroke="#e6cc80" stroke-width="0.8"/>
<circle cx="1168.5" cy="203.3" r="1.3" fill="#e6cc80"/>
<circle cx="1172.3" cy="203.3" r="1.3" fill="#e6cc80"/>
<circle cx="1176.1" cy="203.3" r="1.3" fill="#e6cc80"/>
<rect x="1195.0" y="200.7" width="1.6" height="1.3" fill="#e6cc80"/>
<rect x="1195.0" y="203.9" width="1.6" height="1.3" fill="#e6cc80"/>
<rect x="1198.0" y="200.7" width="1.6" height="1.3" fill="#e6cc80"/>
<rect x="1198.0" y="203.9" width="1.6" height="1.3" fill="#e6cc80"/>
<line x1="1167.2" y1="217.2" x2="1203.8" y2="217.2" stroke="#000" stroke-width="2.4"/>
<circle cx="1185.3" cy="217.2" r="3" fill="#000"/>
<text x="1184.70" y="236.80" font-size="15.35" font-weight="bold" text-anchor="middle" >Database</text>
<rect x="1084.2" y="311.4" width="160.7" height="23.3" fill="#e5b2aa"/>
<text x="1086.40" y="327.90" font-size="15.3" >Untrusted environment</text>
<rect x="802.1" y="315.9" width="101.6" height="30.9" rx="9" fill="#cf9a0c"/>
<text x="856.00" y="328.40" font-size="11.9" text-anchor="middle" >Attack !</text>
<text x="853.20" y="342.70" font-size="12.3" text-anchor="middle" >Eavesdropping!</text>
<circle cx="788.8" cy="345.7" r="6" fill="#cf9a0c"/><circle cx="773.3" cy="354.8" r="4.5" fill="#cf9a0c"/>
<rect x="1013" y="316" width="48.2" height="30.9" rx="10" fill="#cf9a0c"/>
<text x="1037.30" y="335.70" font-size="12" text-anchor="middle" >Error?</text>
<circle cx="999.8" cy="345.8" r="6" fill="#cf9a0c"/><circle cx="984.2" cy="354.7" r="4.6" fill="#cf9a0c"/>
<path d="M723.9,397.2 C723.9,389.9 729.4,386.4 737.4,383.9 C734.4,379.9 733.9,374.9 734.6,371.9 C736.4,360.9 741.4,352.9 751.4,352.9 C761.4,352.9 766.4,360.9 768.1999999999999,371.9 C768.9,374.9 768.4,379.9 765.4,383.9 C773.4,386.4 778.9,389.9 778.9,397.2 Z" fill="#0b0d0f"/>
<path d="M737.4,374.9 C738.4,365.9 764.4,365.9 765.4,374.9 C764.4,382.9 757.4,384.9 751.4,384.9 C745.4,384.9 738.4,382.9 737.4,374.9 Z" fill="#111417" stroke="#2b3a44" stroke-width="0.9"/>
<path d="M740.4,382.9 C742.4,387.9 743.4,392.9 743.4,396.9 M762.4,382.9 C760.4,387.9 759.4,392.9 759.4,396.9" fill="none" stroke="#2b3a44" stroke-width="0.8"/>
<path d="M740.6,371.09999999999997 L749.0,372.7 C748.8,375.4 747.4,377.29999999999995 745.6,377.29999999999995 C743.4,377.09999999999997 741.1999999999999,373.9 740.6,371.09999999999997 Z" fill="#fff"/>
<path d="M762.1999999999999,371.09999999999997 L753.8,372.7 C754.0,375.4 755.4,377.29999999999995 757.1999999999999,377.29999999999995 C759.4,377.09999999999997 761.6,373.9 762.1999999999999,371.09999999999997 Z" fill="#fff"/>
<path d="M936.6,398.7 C936.6,391.4 942.1,387.9 950.1,385.4 C947.1,381.4 946.6,376.4 947.3000000000001,373.4 C949.1,362.4 954.1,354.4 964.1,354.4 C974.1,354.4 979.1,362.4 980.9,373.4 C981.6,376.4 981.1,381.4 978.1,385.4 C986.1,387.9 991.6,391.4 991.6,398.7 Z" fill="#0b0d0f"/>
<path d="M950.1,376.4 C951.1,367.4 977.1,367.4 978.1,376.4 C977.1,384.4 970.1,386.4 964.1,386.4 C958.1,386.4 951.1,384.4 950.1,376.4 Z" fill="#111417" stroke="#2b3a44" stroke-width="0.9"/>
<path d="M953.1,384.4 C955.1,389.4 956.1,394.4 956.1,398.4 M975.1,384.4 C973.1,389.4 972.1,394.4 972.1,398.4" fill="none" stroke="#2b3a44" stroke-width="0.8"/>
<polyline points="957.80,371.70 957.85,371.76 957.89,371.84 957.91,371.93 957.92,372.02 957.92,372.13 957.89,372.24 957.84,372.34 957.77,372.45 957.68,372.54 957.57,372.63 957.45,372.70 957.31,372.75 957.15,372.78 956.98,372.78 956.81,372.76 956.64,372.71 956.47,372.64 956.30,372.53 956.15,372.40 956.02,372.24 955.90,372.06 955.81,371.85 955.75,371.63 955.73,371.39 955.73,371.15 955.78,370.90 955.86,370.65 955.98,370.41 956.13,370.19 956.32,369.98 956.55,369.80 956.81,369.65 957.09,369.53 957.39,369.46 957.71,369.42 958.03,369.43 958.36,369.49 958.68,369.60 959.00,369.76 959.29,369.96 959.56,370.20 959.79,370.49 959.98,370.81 960.14,371.17 960.24,371.55 960.28,371.95 960.28,372.35 960.21,372.76 960.08,373.17 959.90,373.56 959.66,373.92 959.36,374.25 959.02,374.55 958.63,374.79 958.20,374.99 957.75,375.12 957.27,375.19 956.78,375.19 956.29,375.12" fill="none" stroke="#fff" stroke-width="0.9"/>
<polyline points="970.60,371.70 970.65,371.76 970.69,371.84 970.71,371.93 970.72,372.02 970.72,372.13 970.69,372.24 970.64,372.34 970.57,372.45 970.48,372.54 970.37,372.63 970.25,372.70 970.11,372.75 969.95,372.78 969.78,372.78 969.61,372.76 969.44,372.71 969.27,372.64 969.10,372.53 968.95,372.40 968.82,372.24 968.70,372.06 968.61,371.85 968.55,371.63 968.53,371.39 968.53,371.15 968.58,370.90 968.66,370.65 968.78,370.41 968.93,370.19 969.12,369.98 969.35,369.80 969.61,369.65 969.89,369.53 970.19,369.46 970.51,369.42 970.83,369.43 971.16,369.49 971.48,369.60 971.80,369.76 972.09,369.96 972.36,370.20 972.59,370.49 972.78,370.81 972.94,371.17 973.04,371.55 973.08,371.95 973.08,372.35 973.01,372.76 972.88,373.17 972.70,373.56 972.46,373.92 972.16,374.25 971.82,374.55 971.43,374.79 971.00,374.99 970.55,375.12 970.07,375.19 969.58,375.19 969.09,375.12" fill="none" stroke="#fff" stroke-width="0.9"/>
<defs><linearGradient id="sec" x1="0" y1="0" x2="1" y2="0"><stop offset="0" stop-color="#6fa2d6"/><stop offset="0.6" stop-color="#a9c8e6"/><stop offset="1" stop-color="#dde9f5"/></linearGradient></defs>
<path d="M814,405.3 C845,399 880,392 898.6,380.9 L898.1,375 L916.2,361.2 L916.7,382.4 L910.3,380.9 C885,396 850,408 814,411.7 Z" fill="url(#sec)"/>
<text x="815.90" y="373.40" font-size="13.85" font-weight="bold" >Security</text>
<text x="815.90" y="390.50" font-size="13.9" font-weight="bold" >enhanced!</text>
<rect x="690.4" y="400.3" width="119.5" height="119" fill="#a50026"/>
<path d="M690.40,400.30h3.78v3.77h-3.78zM694.13,400.30h3.78v3.77h-3.78zM697.87,400.30h3.78v3.77h-3.78zM701.60,400.30h3.78v3.77h-3.78zM709.07,400.30h3.78v3.77h-3.78zM712.81,400.30h3.78v3.77h-3.78zM738.95,400.30h3.78v3.77h-3.78zM746.42,400.30h3.78v3.77h-3.78zM750.15,400.30h3.78v3.77h-3.78zM757.62,400.30h3.78v3.77h-3.78zM768.82,400.30h3.78v3.77h-3.78zM783.76,400.30h3.78v3.77h-3.78zM787.49,400.30h3.78v3.77h-3.78zM791.23,400.30h3.78v3.77h-3.78zM794.96,400.30h3.78v3.77h-3.78zM798.70,400.30h3.78v3.77h-3.78zM705.34,404.02h3.78v3.77h-3.78zM709.07,404.02h3.78v3.77h-3.78zM716.54,404.02h3.78v3.77h-3.78zM738.95,404.02h3.78v3.77h-3.78zM742.68,404.02h3.78v3.77h-3.78zM753.88,404.02h3.78v3.77h-3.78zM757.62,404.02h3.78v3.77h-3.78zM761.35,404.02h3.78v3.77h-3.78zM765.09,404.02h3.78v3.77h-3.78zM768.82,404.02h3.78v3.77h-3.78zM772.56,404.02h3.78v3.77h-3.78zM780.02,404.02h3.78v3.77h-3.78zM787.49,404.02h3.78v3.77h-3.78zM791.23,404.02h3.78v3.77h-3.78zM794.96,404.02h3.78v3.77h-3.78zM798.70,404.02h3.78v3.77h-3.78zM806.17,404.02h3.78v3.77h-3.78zM697.87,407.74h3.78v3.77h-3.78zM716.54,407.74h3.78v3.77h-3.78zM720.27,407.74h3.78v3.77h-3.78zM724.01,407.74h3.78v3.77h-3.78zM727.74,407.74h3.78v3.77h-3.78zM731.48,407.74h3.78v3.77h-3.78zM735.21,407.74h3.78v3.77h-3.78zM738.95,407.74h3.78v3.77h-3.78zM742.68,407.74h3.78v3.77h-3.78zM757.62,407.74h3.78v3.77h-3.78zM765.09,407.74h3.78v3.77h-3.78zM768.82,407.74h3.78v3.77h-3.78zM772.56,407.74h3.78v3.77h-3.78zM780.02,407.74h3.78v3.77h-3.78zM783.76,407.74h3.78v3.77h-3.78zM787.49,407.74h3.78v3.77h-3.78zM794.96,407.74h3.78v3.77h-3.78zM798.70,407.74h3.78v3.77h-3.78zM802.43,407.74h3.78v3.77h-3.78zM806.17,407.74h3.78v3.77h-3.78zM709.07,411.46h3.78v3.77h-3.78zM720.27,411.46h3.78v3.77h-3.78zM731.48,411.46h3.78v3.77h-3.78zM742.68,411.46h3.78v3.77h-3.78zM746.42,411.46h3.78v3.77h-3.78zM753.88,411.46h3.78v3.77h-3.78zM765.09,411.46h3.78v3.77h-3.78zM768.82,411.46h3.78v3.77h-3.78zM783.76,411.46h3.78v3.77h-3.78zM791.23,411.46h3.78v3.77h-3.78zM798.70,411.46h3.78v3.77h-3.78zM690.40,415.18h3.78v3.77h-3.78zM735.21,415.18h3.78v3.77h-3.78zM742.68,415.18h3.78v3.77h-3.78zM761.35,415.18h3.78v3.77h-3.78zM768.82,415.18h3.78v3.77h-3.78zM776.29,415.18h3.78v3.77h-3.78zM783.76,415.18h3.78v3.77h-3.78zM787.49,415.18h3.78v3.77h-3.78zM798.70,415.18h3.78v3.77h-3.78zM690.40,418.89h3.78v3.77h-3.78zM724.01,418.89h3.78v3.77h-3.78zM727.74,418.89h3.78v3.77h-3.78zM731.48,418.89h3.78v3.77h-3.78zM735.21,418.89h3.78v3.77h-3.78zM746.42,418.89h3.78v3.77h-3.78zM750.15,418.89h3.78v3.77h-3.78zM765.09,418.89h3.78v3.77h-3.78zM780.02,418.89h3.78v3.77h-3.78zM783.76,418.89h3.78v3.77h-3.78zM787.49,418.89h3.78v3.77h-3.78zM791.23,418.89h3.78v3.77h-3.78zM794.96,418.89h3.78v3.77h-3.78zM798.70,418.89h3.78v3.77h-3.78zM690.40,422.61h3.78v3.77h-3.78zM697.87,422.61h3.78v3.77h-3.78zM701.60,422.61h3.78v3.77h-3.78zM705.34,422.61h3.78v3.77h-3.78zM727.74,422.61h3.78v3.77h-3.78zM742.68,422.61h3.78v3.77h-3.78zM746.42,422.61h3.78v3.77h-3.78zM750.15,422.61h3.78v3.77h-3.78zM753.88,422.61h3.78v3.77h-3.78zM757.62,422.61h3.78v3.77h-3.78zM761.35,422.61h3.78v3.77h-3.78zM768.82,422.61h3.78v3.77h-3.78zM791.23,422.61h3.78v3.77h-3.78zM794.96,422.61h3.78v3.77h-3.78zM802.43,422.61h3.78v3.77h-3.78zM806.17,422.61h3.78v3.77h-3.78zM690.40,426.33h3.78v3.77h-3.78zM694.13,426.33h3.78v3.77h-3.78zM701.60,426.33h3.78v3.77h-3.78zM705.34,426.33h3.78v3.77h-3.78zM712.81,426.33h3.78v3.77h-3.78zM720.27,426.33h3.78v3.77h-3.78zM724.01,426.33h3.78v3.77h-3.78zM727.74,426.33h3.78v3.77h-3.78zM731.48,426.33h3.78v3.77h-3.78zM738.95,426.33h3.78v3.77h-3.78zM742.68,426.33h3.78v3.77h-3.78zM757.62,426.33h3.78v3.77h-3.78zM772.56,426.33h3.78v3.77h-3.78zM776.29,426.33h3.78v3.77h-3.78zM787.49,426.33h3.78v3.77h-3.78zM690.40,430.05h3.78v3.77h-3.78zM694.13,430.05h3.78v3.77h-3.78zM697.87,430.05h3.78v3.77h-3.78zM701.60,430.05h3.78v3.77h-3.78zM705.34,430.05h3.78v3.77h-3.78zM709.07,430.05h3.78v3.77h-3.78zM712.81,430.05h3.78v3.77h-3.78zM716.54,430.05h3.78v3.77h-3.78zM727.74,430.05h3.78v3.77h-3.78zM731.48,430.05h3.78v3.77h-3.78zM738.95,430.05h3.78v3.77h-3.78zM746.42,430.05h3.78v3.77h-3.78zM761.35,430.05h3.78v3.77h-3.78zM780.02,430.05h3.78v3.77h-3.78zM783.76,430.05h3.78v3.77h-3.78zM787.49,430.05h3.78v3.77h-3.78zM791.23,430.05h3.78v3.77h-3.78zM794.96,430.05h3.78v3.77h-3.78zM798.70,430.05h3.78v3.77h-3.78zM694.13,433.77h3.78v3.77h-3.78zM697.87,433.77h3.78v3.77h-3.78zM701.60,433.77h3.78v3.77h-3.78zM705.34,433.77h3.78v3.77h-3.78zM709.07,433.77h3.78v3.77h-3.78zM712.81,433.77h3.78v3.77h-3.78zM716.54,433.77h3.78v3.77h-3.78zM720.27,433.77h3.78v3.77h-3.78zM724.01,433.77h3.78v3.77h-3.78zM731.48,433.77h3.78v3.77h-3.78zM750.15,433.77h3.78v3.77h-3.78zM757.62,433.77h3.78v3.77h-3.78zM761.35,433.77h3.78v3.77h-3.78zM772.56,433.77h3.78v3.77h-3.78zM783.76,433.77h3.78v3.77h-3.78zM787.49,433.77h3.78v3.77h-3.78zM791.23,433.77h3.78v3.77h-3.78zM794.96,433.77h3.78v3.77h-3.78zM806.17,433.77h3.78v3.77h-3.78zM690.40,437.49h3.78v3.77h-3.78zM697.87,437.49h3.78v3.77h-3.78zM701.60,437.49h3.78v3.77h-3.78zM709.07,437.49h3.78v3.77h-3.78zM716.54,437.49h3.78v3.77h-3.78zM720.27,437.49h3.78v3.77h-3.78zM727.74,437.49h3.78v3.77h-3.78zM738.95,437.49h3.78v3.77h-3.78zM746.42,437.49h3.78v3.77h-3.78zM750.15,437.49h3.78v3.77h-3.78zM757.62,437.49h3.78v3.77h-3.78zM761.35,437.49h3.78v3.77h-3.78zM765.09,437.49h3.78v3.77h-3.78zM768.82,437.49h3.78v3.77h-3.78zM772.56,437.49h3.78v3.77h-3.78zM783.76,437.49h3.78v3.77h-3.78zM791.23,437.49h3.78v3.77h-3.78zM798.70,437.49h3.78v3.77h-3.78zM806.17,437.49h3.78v3.77h-3.78zM709.07,441.21h3.78v3.77h-3.78zM720.27,441.21h3.78v3.77h-3.78zM724.01,441.21h3.78v3.77h-3.78zM727.74,441.21h3.78v3.77h-3.78zM731.48,441.21h3.78v3.77h-3.78zM738.95,441.21h3.78v3.77h-3.78zM742.68,441.21h3.78v3.77h-3.78zM750.15,441.21h3.78v3.77h-3.78zM753.88,441.21h3.78v3.77h-3.78zM757.62,441.21h3.78v3.77h-3.78zM761.35,441.21h3.78v3.77h-3.78zM765.09,441.21h3.78v3.77h-3.78zM768.82,441.21h3.78v3.77h-3.78zM772.56,441.21h3.78v3.77h-3.78zM780.02,441.21h3.78v3.77h-3.78zM787.49,441.21h3.78v3.77h-3.78zM794.96,441.21h3.78v3.77h-3.78zM798.70,441.21h3.78v3.77h-3.78zM802.43,441.21h3.78v3.77h-3.78zM806.17,441.21h3.78v3.77h-3.78zM690.40,444.93h3.78v3.77h-3.78zM701.60,444.93h3.78v3.77h-3.78zM705.34,444.93h3.78v3.77h-3.78zM716.54,444.93h3.78v3.77h-3.78zM720.27,444.93h3.78v3.77h-3.78zM724.01,444.93h3.78v3.77h-3.78zM727.74,444.93h3.78v3.77h-3.78zM738.95,444.93h3.78v3.77h-3.78zM742.68,444.93h3.78v3.77h-3.78zM746.42,444.93h3.78v3.77h-3.78zM757.62,444.93h3.78v3.77h-3.78zM761.35,444.93h3.78v3.77h-3.78zM765.09,444.93h3.78v3.77h-3.78zM768.82,444.93h3.78v3.77h-3.78zM798.70,444.93h3.78v3.77h-3.78zM690.40,448.64h3.78v3.77h-3.78zM694.13,448.64h3.78v3.77h-3.78zM701.60,448.64h3.78v3.77h-3.78zM705.34,448.64h3.78v3.77h-3.78zM709.07,448.64h3.78v3.77h-3.78zM720.27,448.64h3.78v3.77h-3.78zM724.01,448.64h3.78v3.77h-3.78zM727.74,448.64h3.78v3.77h-3.78zM731.48,448.64h3.78v3.77h-3.78zM738.95,448.64h3.78v3.77h-3.78zM742.68,448.64h3.78v3.77h-3.78zM750.15,448.64h3.78v3.77h-3.78zM765.09,448.64h3.78v3.77h-3.78zM791.23,448.64h3.78v3.77h-3.78zM794.96,448.64h3.78v3.77h-3.78zM802.43,448.64h3.78v3.77h-3.78zM690.40,452.36h3.78v3.77h-3.78zM701.60,452.36h3.78v3.77h-3.78zM705.34,452.36h3.78v3.77h-3.78zM709.07,452.36h3.78v3.77h-3.78zM720.27,452.36h3.78v3.77h-3.78zM735.21,452.36h3.78v3.77h-3.78zM742.68,452.36h3.78v3.77h-3.78zM753.88,452.36h3.78v3.77h-3.78zM765.09,452.36h3.78v3.77h-3.78zM787.49,452.36h3.78v3.77h-3.78zM798.70,452.36h3.78v3.77h-3.78zM802.43,452.36h3.78v3.77h-3.78zM806.17,452.36h3.78v3.77h-3.78zM694.13,456.08h3.78v3.77h-3.78zM701.60,456.08h3.78v3.77h-3.78zM705.34,456.08h3.78v3.77h-3.78zM709.07,456.08h3.78v3.77h-3.78zM720.27,456.08h3.78v3.77h-3.78zM724.01,456.08h3.78v3.77h-3.78zM735.21,456.08h3.78v3.77h-3.78zM746.42,456.08h3.78v3.77h-3.78zM750.15,456.08h3.78v3.77h-3.78zM753.88,456.08h3.78v3.77h-3.78zM761.35,456.08h3.78v3.77h-3.78zM765.09,456.08h3.78v3.77h-3.78zM768.82,456.08h3.78v3.77h-3.78zM772.56,456.08h3.78v3.77h-3.78zM787.49,456.08h3.78v3.77h-3.78zM791.23,456.08h3.78v3.77h-3.78zM802.43,456.08h3.78v3.77h-3.78zM697.87,459.80h3.78v3.77h-3.78zM701.60,459.80h3.78v3.77h-3.78zM705.34,459.80h3.78v3.77h-3.78zM709.07,459.80h3.78v3.77h-3.78zM712.81,459.80h3.78v3.77h-3.78zM724.01,459.80h3.78v3.77h-3.78zM727.74,459.80h3.78v3.77h-3.78zM738.95,459.80h3.78v3.77h-3.78zM750.15,459.80h3.78v3.77h-3.78zM753.88,459.80h3.78v3.77h-3.78zM757.62,459.80h3.78v3.77h-3.78zM765.09,459.80h3.78v3.77h-3.78zM768.82,459.80h3.78v3.77h-3.78zM772.56,459.80h3.78v3.77h-3.78zM780.02,459.80h3.78v3.77h-3.78zM787.49,459.80h3.78v3.77h-3.78zM791.23,459.80h3.78v3.77h-3.78zM794.96,459.80h3.78v3.77h-3.78zM798.70,459.80h3.78v3.77h-3.78zM735.21,463.52h3.78v3.77h-3.78zM742.68,463.52h3.78v3.77h-3.78zM746.42,463.52h3.78v3.77h-3.78zM750.15,463.52h3.78v3.77h-3.78zM753.88,463.52h3.78v3.77h-3.78zM768.82,463.52h3.78v3.77h-3.78zM772.56,463.52h3.78v3.77h-3.78zM787.49,463.52h3.78v3.77h-3.78zM794.96,463.52h3.78v3.77h-3.78zM798.70,463.52h3.78v3.77h-3.78zM802.43,463.52h3.78v3.77h-3.78zM806.17,463.52h3.78v3.77h-3.78zM690.40,467.24h3.78v3.77h-3.78zM705.34,467.24h3.78v3.77h-3.78zM727.74,467.24h3.78v3.77h-3.78zM731.48,467.24h3.78v3.77h-3.78zM742.68,467.24h3.78v3.77h-3.78zM746.42,467.24h3.78v3.77h-3.78zM750.15,467.24h3.78v3.77h-3.78zM753.88,467.24h3.78v3.77h-3.78zM772.56,467.24h3.78v3.77h-3.78zM783.76,467.24h3.78v3.77h-3.78zM690.40,470.96h3.78v3.77h-3.78zM694.13,470.96h3.78v3.77h-3.78zM701.60,470.96h3.78v3.77h-3.78zM705.34,470.96h3.78v3.77h-3.78zM731.48,470.96h3.78v3.77h-3.78zM735.21,470.96h3.78v3.77h-3.78zM746.42,470.96h3.78v3.77h-3.78zM750.15,470.96h3.78v3.77h-3.78zM753.88,470.96h3.78v3.77h-3.78zM757.62,470.96h3.78v3.77h-3.78zM772.56,470.96h3.78v3.77h-3.78zM783.76,470.96h3.78v3.77h-3.78zM697.87,474.68h3.78v3.77h-3.78zM701.60,474.68h3.78v3.77h-3.78zM705.34,474.68h3.78v3.77h-3.78zM727.74,474.68h3.78v3.77h-3.78zM731.48,474.68h3.78v3.77h-3.78zM746.42,474.68h3.78v3.77h-3.78zM750.15,474.68h3.78v3.77h-3.78zM753.88,474.68h3.78v3.77h-3.78zM757.62,474.68h3.78v3.77h-3.78zM761.35,474.68h3.78v3.77h-3.78zM776.29,474.68h3.78v3.77h-3.78zM780.02,474.68h3.78v3.77h-3.78zM791.23,474.68h3.78v3.77h-3.78zM794.96,474.68h3.78v3.77h-3.78zM806.17,474.68h3.78v3.77h-3.78zM690.40,478.39h3.78v3.77h-3.78zM697.87,478.39h3.78v3.77h-3.78zM701.60,478.39h3.78v3.77h-3.78zM709.07,478.39h3.78v3.77h-3.78zM724.01,478.39h3.78v3.77h-3.78zM727.74,478.39h3.78v3.77h-3.78zM731.48,478.39h3.78v3.77h-3.78zM742.68,478.39h3.78v3.77h-3.78zM753.88,478.39h3.78v3.77h-3.78zM757.62,478.39h3.78v3.77h-3.78zM761.35,478.39h3.78v3.77h-3.78zM765.09,478.39h3.78v3.77h-3.78zM768.82,478.39h3.78v3.77h-3.78zM772.56,478.39h3.78v3.77h-3.78zM776.29,478.39h3.78v3.77h-3.78zM783.76,478.39h3.78v3.77h-3.78zM787.49,478.39h3.78v3.77h-3.78zM791.23,478.39h3.78v3.77h-3.78zM794.96,478.39h3.78v3.77h-3.78zM798.70,478.39h3.78v3.77h-3.78zM694.13,482.11h3.78v3.77h-3.78zM705.34,482.11h3.78v3.77h-3.78zM709.07,482.11h3.78v3.77h-3.78zM716.54,482.11h3.78v3.77h-3.78zM724.01,482.11h3.78v3.77h-3.78zM727.74,482.11h3.78v3.77h-3.78zM746.42,482.11h3.78v3.77h-3.78zM750.15,482.11h3.78v3.77h-3.78zM753.88,482.11h3.78v3.77h-3.78zM757.62,482.11h3.78v3.77h-3.78zM761.35,482.11h3.78v3.77h-3.78zM765.09,482.11h3.78v3.77h-3.78zM772.56,482.11h3.78v3.77h-3.78zM776.29,482.11h3.78v3.77h-3.78zM787.49,482.11h3.78v3.77h-3.78zM791.23,482.11h3.78v3.77h-3.78zM798.70,482.11h3.78v3.77h-3.78zM802.43,482.11h3.78v3.77h-3.78zM806.17,482.11h3.78v3.77h-3.78zM694.13,485.83h3.78v3.77h-3.78zM697.87,485.83h3.78v3.77h-3.78zM720.27,485.83h3.78v3.77h-3.78zM724.01,485.83h3.78v3.77h-3.78zM735.21,485.83h3.78v3.77h-3.78zM746.42,485.83h3.78v3.77h-3.78zM750.15,485.83h3.78v3.77h-3.78zM753.88,485.83h3.78v3.77h-3.78zM757.62,485.83h3.78v3.77h-3.78zM772.56,485.83h3.78v3.77h-3.78zM794.96,485.83h3.78v3.77h-3.78zM798.70,485.83h3.78v3.77h-3.78zM802.43,485.83h3.78v3.77h-3.78zM806.17,485.83h3.78v3.77h-3.78zM694.13,489.55h3.78v3.77h-3.78zM697.87,489.55h3.78v3.77h-3.78zM701.60,489.55h3.78v3.77h-3.78zM709.07,489.55h3.78v3.77h-3.78zM731.48,489.55h3.78v3.77h-3.78zM735.21,489.55h3.78v3.77h-3.78zM738.95,489.55h3.78v3.77h-3.78zM750.15,489.55h3.78v3.77h-3.78zM753.88,489.55h3.78v3.77h-3.78zM768.82,489.55h3.78v3.77h-3.78zM772.56,489.55h3.78v3.77h-3.78zM780.02,489.55h3.78v3.77h-3.78zM787.49,489.55h3.78v3.77h-3.78zM802.43,489.55h3.78v3.77h-3.78zM690.40,493.27h3.78v3.77h-3.78zM694.13,493.27h3.78v3.77h-3.78zM697.87,493.27h3.78v3.77h-3.78zM701.60,493.27h3.78v3.77h-3.78zM716.54,493.27h3.78v3.77h-3.78zM727.74,493.27h3.78v3.77h-3.78zM735.21,493.27h3.78v3.77h-3.78zM738.95,493.27h3.78v3.77h-3.78zM746.42,493.27h3.78v3.77h-3.78zM750.15,493.27h3.78v3.77h-3.78zM761.35,493.27h3.78v3.77h-3.78zM765.09,493.27h3.78v3.77h-3.78zM768.82,493.27h3.78v3.77h-3.78zM772.56,493.27h3.78v3.77h-3.78zM776.29,493.27h3.78v3.77h-3.78zM802.43,493.27h3.78v3.77h-3.78zM806.17,493.27h3.78v3.77h-3.78zM690.40,496.99h3.78v3.77h-3.78zM694.13,496.99h3.78v3.77h-3.78zM697.87,496.99h3.78v3.77h-3.78zM701.60,496.99h3.78v3.77h-3.78zM724.01,496.99h3.78v3.77h-3.78zM727.74,496.99h3.78v3.77h-3.78zM735.21,496.99h3.78v3.77h-3.78zM738.95,496.99h3.78v3.77h-3.78zM742.68,496.99h3.78v3.77h-3.78zM753.88,496.99h3.78v3.77h-3.78zM757.62,496.99h3.78v3.77h-3.78zM761.35,496.99h3.78v3.77h-3.78zM765.09,496.99h3.78v3.77h-3.78zM768.82,496.99h3.78v3.77h-3.78zM791.23,496.99h3.78v3.77h-3.78zM794.96,496.99h3.78v3.77h-3.78zM798.70,496.99h3.78v3.77h-3.78zM802.43,496.99h3.78v3.77h-3.78zM690.40,500.71h3.78v3.77h-3.78zM705.34,500.71h3.78v3.77h-3.78zM709.07,500.71h3.78v3.77h-3.78zM712.81,500.71h3.78v3.77h-3.78zM724.01,500.71h3.78v3.77h-3.78zM727.74,500.71h3.78v3.77h-3.78zM731.48,500.71h3.78v3.77h-3.78zM735.21,500.71h3.78v3.77h-3.78zM738.95,500.71h3.78v3.77h-3.78zM742.68,500.71h3.78v3.77h-3.78zM746.42,500.71h3.78v3.77h-3.78zM750.15,500.71h3.78v3.77h-3.78zM753.88,500.71h3.78v3.77h-3.78zM757.62,500.71h3.78v3.77h-3.78zM765.09,500.71h3.78v3.77h-3.78zM768.82,500.71h3.78v3.77h-3.78zM776.29,500.71h3.78v3.77h-3.78zM780.02,500.71h3.78v3.77h-3.78zM783.76,500.71h3.78v3.77h-3.78zM798.70,500.71h3.78v3.77h-3.78zM802.43,500.71h3.78v3.77h-3.78zM806.17,500.71h3.78v3.77h-3.78zM690.40,504.43h3.78v3.77h-3.78zM705.34,504.43h3.78v3.77h-3.78zM731.48,504.43h3.78v3.77h-3.78zM742.68,504.43h3.78v3.77h-3.78zM750.15,504.43h3.78v3.77h-3.78zM757.62,504.43h3.78v3.77h-3.78zM761.35,504.43h3.78v3.77h-3.78zM765.09,504.43h3.78v3.77h-3.78zM768.82,504.43h3.78v3.77h-3.78zM772.56,504.43h3.78v3.77h-3.78zM776.29,504.43h3.78v3.77h-3.78zM798.70,504.43h3.78v3.77h-3.78zM802.43,504.43h3.78v3.77h-3.78zM806.17,504.43h3.78v3.77h-3.78zM690.40,508.14h3.78v3.77h-3.78zM694.13,508.14h3.78v3.77h-3.78zM705.34,508.14h3.78v3.77h-3.78zM716.54,508.14h3.78v3.77h-3.78zM720.27,508.14h3.78v3.77h-3.78zM724.01,508.14h3.78v3.77h-3.78zM727.74,508.14h3.78v3.77h-3.78zM735.21,508.14h3.78v3.77h-3.78zM746.42,508.14h3.78v3.77h-3.78zM753.88,508.14h3.78v3.77h-3.78zM757.62,508.14h3.78v3.77h-3.78zM761.35,508.14h3.78v3.77h-3.78zM765.09,508.14h3.78v3.77h-3.78zM768.82,508.14h3.78v3.77h-3.78zM772.56,508.14h3.78v3.77h-3.78zM776.29,508.14h3.78v3.77h-3.78zM780.02,508.14h3.78v3.77h-3.78zM783.76,508.14h3.78v3.77h-3.78zM787.49,508.14h3.78v3.77h-3.78zM798.70,508.14h3.78v3.77h-3.78zM802.43,508.14h3.78v3.77h-3.78zM701.60,511.86h3.78v3.77h-3.78zM720.27,511.86h3.78v3.77h-3.78zM724.01,511.86h3.78v3.77h-3.78zM757.62,511.86h3.78v3.77h-3.78zM761.35,511.86h3.78v3.77h-3.78zM772.56,511.86h3.78v3.77h-3.78zM776.29,511.86h3.78v3.77h-3.78zM783.76,511.86h3.78v3.77h-3.78zM794.96,511.86h3.78v3.77h-3.78zM798.70,511.86h3.78v3.77h-3.78zM802.43,511.86h3.78v3.77h-3.78zM697.87,515.58h3.78v3.77h-3.78zM701.60,515.58h3.78v3.77h-3.78zM705.34,515.58h3.78v3.77h-3.78zM709.07,515.58h3.78v3.77h-3.78zM712.81,515.58h3.78v3.77h-3.78zM716.54,515.58h3.78v3.77h-3.78zM724.01,515.58h3.78v3.77h-3.78zM742.68,515.58h3.78v3.77h-3.78zM746.42,515.58h3.78v3.77h-3.78zM750.15,515.58h3.78v3.77h-3.78zM753.88,515.58h3.78v3.77h-3.78zM757.62,515.58h3.78v3.77h-3.78zM768.82,515.58h3.78v3.77h-3.78zM772.56,515.58h3.78v3.77h-3.78zM776.29,515.58h3.78v3.77h-3.78zM787.49,515.58h3.78v3.77h-3.78zM798.70,515.58h3.78v3.77h-3.78zM802.43,515.58h3.78v3.77h-3.78z" fill="#313695" shape-rendering="crispEdges"/>
<rect x="690.4" y="400.3" width="119.5" height="119" fill="none" stroke="#000" stroke-width="1.1"/>
<text x="692.27" y="532.00" font-size="13.5" text-anchor="middle" >0</text>
<text transform="translate(687.20,402.16) rotate(-90)" font-size="13.5" text-anchor="middle">0</text>
<text x="729.61" y="532.00" font-size="13.5" text-anchor="middle" >10</text>
<text transform="translate(687.20,439.35) rotate(-90)" font-size="13.5" text-anchor="middle">10</text>
<text x="766.95" y="532.00" font-size="13.5" text-anchor="middle" >20</text>
<text transform="translate(687.20,476.53) rotate(-90)" font-size="13.5" text-anchor="middle">20</text>
<text x="804.30" y="532.00" font-size="13.5" text-anchor="middle" >30</text>
<text transform="translate(687.20,513.72) rotate(-90)" font-size="13.5" text-anchor="middle">30</text>
<rect x="900.8" y="400.3" width="119.5" height="119" fill="#a50026"/>
<path d="M900.80,400.30h3.78v3.77h-3.78zM908.27,400.30h3.78v3.77h-3.78zM912.00,400.30h3.78v3.77h-3.78zM926.94,400.30h3.78v3.77h-3.78zM930.67,400.30h3.78v3.77h-3.78zM934.41,400.30h3.78v3.77h-3.78zM938.14,400.30h3.78v3.77h-3.78zM960.55,400.30h3.78v3.77h-3.78zM964.28,400.30h3.78v3.77h-3.78zM968.02,400.30h3.78v3.77h-3.78zM971.75,400.30h3.78v3.77h-3.78zM994.16,400.30h3.78v3.77h-3.78zM1005.36,400.30h3.78v3.77h-3.78zM1012.83,400.30h3.78v3.77h-3.78zM904.53,404.02h3.78v3.77h-3.78zM908.27,404.02h3.78v3.77h-3.78zM923.21,404.02h3.78v3.77h-3.78zM934.41,404.02h3.78v3.77h-3.78zM938.14,404.02h3.78v3.77h-3.78zM941.88,404.02h3.78v3.77h-3.78zM960.55,404.02h3.78v3.77h-3.78zM964.28,404.02h3.78v3.77h-3.78zM971.75,404.02h3.78v3.77h-3.78zM975.49,404.02h3.78v3.77h-3.78zM979.22,404.02h3.78v3.77h-3.78zM982.96,404.02h3.78v3.77h-3.78zM994.16,404.02h3.78v3.77h-3.78zM1001.63,404.02h3.78v3.77h-3.78zM1016.57,404.02h3.78v3.77h-3.78zM900.80,407.74h3.78v3.77h-3.78zM912.00,407.74h3.78v3.77h-3.78zM915.74,407.74h3.78v3.77h-3.78zM938.14,407.74h3.78v3.77h-3.78zM956.82,407.74h3.78v3.77h-3.78zM960.55,407.74h3.78v3.77h-3.78zM968.02,407.74h3.78v3.77h-3.78zM975.49,407.74h3.78v3.77h-3.78zM979.22,407.74h3.78v3.77h-3.78zM982.96,407.74h3.78v3.77h-3.78zM994.16,407.74h3.78v3.77h-3.78zM997.89,407.74h3.78v3.77h-3.78zM1012.83,407.74h3.78v3.77h-3.78zM1016.57,407.74h3.78v3.77h-3.78zM908.27,411.46h3.78v3.77h-3.78zM912.00,411.46h3.78v3.77h-3.78zM915.74,411.46h3.78v3.77h-3.78zM923.21,411.46h3.78v3.77h-3.78zM956.82,411.46h3.78v3.77h-3.78zM964.28,411.46h3.78v3.77h-3.78zM968.02,411.46h3.78v3.77h-3.78zM971.75,411.46h3.78v3.77h-3.78zM975.49,411.46h3.78v3.77h-3.78zM979.22,411.46h3.78v3.77h-3.78zM982.96,411.46h3.78v3.77h-3.78zM986.69,411.46h3.78v3.77h-3.78zM990.42,411.46h3.78v3.77h-3.78zM994.16,411.46h3.78v3.77h-3.78zM1009.10,411.46h3.78v3.77h-3.78zM1016.57,411.46h3.78v3.77h-3.78zM908.27,415.18h3.78v3.77h-3.78zM912.00,415.18h3.78v3.77h-3.78zM915.74,415.18h3.78v3.77h-3.78zM923.21,415.18h3.78v3.77h-3.78zM934.41,415.18h3.78v3.77h-3.78zM953.08,415.18h3.78v3.77h-3.78zM956.82,415.18h3.78v3.77h-3.78zM960.55,415.18h3.78v3.77h-3.78zM979.22,415.18h3.78v3.77h-3.78zM982.96,415.18h3.78v3.77h-3.78zM986.69,415.18h3.78v3.77h-3.78zM994.16,415.18h3.78v3.77h-3.78zM997.89,415.18h3.78v3.77h-3.78zM908.27,418.89h3.78v3.77h-3.78zM919.47,418.89h3.78v3.77h-3.78zM923.21,418.89h3.78v3.77h-3.78zM926.94,418.89h3.78v3.77h-3.78zM930.67,418.89h3.78v3.77h-3.78zM934.41,418.89h3.78v3.77h-3.78zM938.14,418.89h3.78v3.77h-3.78zM941.88,418.89h3.78v3.77h-3.78zM945.61,418.89h3.78v3.77h-3.78zM956.82,418.89h3.78v3.77h-3.78zM960.55,418.89h3.78v3.77h-3.78zM982.96,418.89h3.78v3.77h-3.78zM994.16,418.89h3.78v3.77h-3.78zM997.89,418.89h3.78v3.77h-3.78zM1005.36,418.89h3.78v3.77h-3.78zM1012.83,418.89h3.78v3.77h-3.78zM1016.57,418.89h3.78v3.77h-3.78zM900.80,422.61h3.78v3.77h-3.78zM908.27,422.61h3.78v3.77h-3.78zM923.21,422.61h3.78v3.77h-3.78zM930.67,422.61h3.78v3.77h-3.78zM934.41,422.61h3.78v3.77h-3.78zM938.14,422.61h3.78v3.77h-3.78zM941.88,422.61h3.78v3.77h-3.78zM945.61,422.61h3.78v3.77h-3.78zM949.35,422.61h3.78v3.77h-3.78zM953.08,422.61h3.78v3.77h-3.78zM968.02,422.61h3.78v3.77h-3.78zM971.75,422.61h3.78v3.77h-3.78zM975.49,422.61h3.78v3.77h-3.78zM979.22,422.61h3.78v3.77h-3.78zM997.89,422.61h3.78v3.77h-3.78zM900.80,426.33h3.78v3.77h-3.78zM908.27,426.33h3.78v3.77h-3.78zM912.00,426.33h3.78v3.77h-3.78zM934.41,426.33h3.78v3.77h-3.78zM949.35,426.33h3.78v3.77h-3.78zM953.08,426.33h3.78v3.77h-3.78zM968.02,426.33h3.78v3.77h-3.78zM979.22,426.33h3.78v3.77h-3.78zM982.96,426.33h3.78v3.77h-3.78zM997.89,426.33h3.78v3.77h-3.78zM1005.36,426.33h3.78v3.77h-3.78zM1012.83,426.33h3.78v3.77h-3.78zM1016.57,426.33h3.78v3.77h-3.78zM900.80,430.05h3.78v3.77h-3.78zM915.74,430.05h3.78v3.77h-3.78zM919.47,430.05h3.78v3.77h-3.78zM923.21,430.05h3.78v3.77h-3.78zM930.67,430.05h3.78v3.77h-3.78zM938.14,430.05h3.78v3.77h-3.78zM956.82,430.05h3.78v3.77h-3.78zM960.55,430.05h3.78v3.77h-3.78zM964.28,430.05h3.78v3.77h-3.78zM971.75,430.05h3.78v3.77h-3.78zM975.49,430.05h3.78v3.77h-3.78zM979.22,430.05h3.78v3.77h-3.78zM982.96,430.05h3.78v3.77h-3.78zM986.69,430.05h3.78v3.77h-3.78zM1001.63,430.05h3.78v3.77h-3.78zM1005.36,430.05h3.78v3.77h-3.78zM1009.10,430.05h3.78v3.77h-3.78zM1012.83,430.05h3.78v3.77h-3.78zM1016.57,430.05h3.78v3.77h-3.78zM908.27,433.77h3.78v3.77h-3.78zM912.00,433.77h3.78v3.77h-3.78zM915.74,433.77h3.78v3.77h-3.78zM919.47,433.77h3.78v3.77h-3.78zM930.67,433.77h3.78v3.77h-3.78zM934.41,433.77h3.78v3.77h-3.78zM938.14,433.77h3.78v3.77h-3.78zM941.88,433.77h3.78v3.77h-3.78zM945.61,433.77h3.78v3.77h-3.78zM956.82,433.77h3.78v3.77h-3.78zM960.55,433.77h3.78v3.77h-3.78zM964.28,433.77h3.78v3.77h-3.78zM968.02,433.77h3.78v3.77h-3.78zM971.75,433.77h3.78v3.77h-3.78zM975.49,433.77h3.78v3.77h-3.78zM986.69,433.77h3.78v3.77h-3.78zM994.16,433.77h3.78v3.77h-3.78zM1005.36,433.77h3.78v3.77h-3.78zM1012.83,433.77h3.78v3.77h-3.78zM1016.57,433.77h3.78v3.77h-3.78zM900.80,437.49h3.78v3.77h-3.78zM908.27,437.49h3.78v3.77h-3.78zM912.00,437.49h3.78v3.77h-3.78zM915.74,437.49h3.78v3.77h-3.78zM930.67,437.49h3.78v3.77h-3.78zM934.41,437.49h3.78v3.77h-3.78zM938.14,437.49h3.78v3.77h-3.78zM941.88,437.49h3.78v3.77h-3.78zM945.61,437.49h3.78v3.77h-3.78zM956.82,437.49h3.78v3.77h-3.78zM960.55,437.49h3.78v3.77h-3.78zM964.28,437.49h3.78v3.77h-3.78zM968.02,437.49h3.78v3.77h-3.78zM979.22,437.49h3.78v3.77h-3.78zM986.69,437.49h3.78v3.77h-3.78zM990.42,437.49h3.78v3.77h-3.78zM994.16,437.49h3.78v3.77h-3.78zM997.89,437.49h3.78v3.77h-3.78zM1001.63,437.49h3.78v3.77h-3.78zM1012.83,437.49h3.78v3.77h-3.78zM1016.57,437.49h3.78v3.77h-3.78zM900.80,441.21h3.78v3.77h-3.78zM912.00,441.21h3.78v3.77h-3.78zM930.67,441.21h3.78v3.77h-3.78zM938.14,441.21h3.78v3.77h-3.78zM941.88,441.21h3.78v3.77h-3.78zM945.61,441.21h3.78v3.77h-3.78zM949.35,441.21h3.78v3.77h-3.78zM953.08,441.21h3.78v3.77h-3.78zM956.82,441.21h3.78v3.77h-3.78zM960.55,441.21h3.78v3.77h-3.78zM968.02,441.21h3.78v3.77h-3.78zM979.22,441.21h3.78v3.77h-3.78zM982.96,441.21h3.78v3.77h-3.78zM986.69,441.21h3.78v3.77h-3.78zM990.42,441.21h3.78v3.77h-3.78zM994.16,441.21h3.78v3.77h-3.78zM997.89,441.21h3.78v3.77h-3.78zM1001.63,441.21h3.78v3.77h-3.78zM1005.36,441.21h3.78v3.77h-3.78zM904.53,444.93h3.78v3.77h-3.78zM908.27,444.93h3.78v3.77h-3.78zM923.21,444.93h3.78v3.77h-3.78zM930.67,444.93h3.78v3.77h-3.78zM934.41,444.93h3.78v3.77h-3.78zM941.88,444.93h3.78v3.77h-3.78zM945.61,444.93h3.78v3.77h-3.78zM953.08,444.93h3.78v3.77h-3.78zM956.82,444.93h3.78v3.77h-3.78zM960.55,444.93h3.78v3.77h-3.78zM964.28,444.93h3.78v3.77h-3.78zM968.02,444.93h3.78v3.77h-3.78zM971.75,444.93h3.78v3.77h-3.78zM975.49,444.93h3.78v3.77h-3.78zM979.22,444.93h3.78v3.77h-3.78zM982.96,444.93h3.78v3.77h-3.78zM990.42,444.93h3.78v3.77h-3.78zM994.16,444.93h3.78v3.77h-3.78zM997.89,444.93h3.78v3.77h-3.78zM1001.63,444.93h3.78v3.77h-3.78zM900.80,448.64h3.78v3.77h-3.78zM930.67,448.64h3.78v3.77h-3.78zM934.41,448.64h3.78v3.77h-3.78zM949.35,448.64h3.78v3.77h-3.78zM953.08,448.64h3.78v3.77h-3.78zM956.82,448.64h3.78v3.77h-3.78zM960.55,448.64h3.78v3.77h-3.78zM964.28,448.64h3.78v3.77h-3.78zM968.02,448.64h3.78v3.77h-3.78zM975.49,448.64h3.78v3.77h-3.78zM979.22,448.64h3.78v3.77h-3.78zM982.96,448.64h3.78v3.77h-3.78zM997.89,448.64h3.78v3.77h-3.78zM1001.63,448.64h3.78v3.77h-3.78zM900.80,452.36h3.78v3.77h-3.78zM904.53,452.36h3.78v3.77h-3.78zM908.27,452.36h3.78v3.77h-3.78zM912.00,452.36h3.78v3.77h-3.78zM923.21,452.36h3.78v3.77h-3.78zM934.41,452.36h3.78v3.77h-3.78zM945.61,452.36h3.78v3.77h-3.78zM949.35,452.36h3.78v3.77h-3.78zM953.08,452.36h3.78v3.77h-3.78zM956.82,452.36h3.78v3.77h-3.78zM960.55,452.36h3.78v3.77h-3.78zM964.28,452.36h3.78v3.77h-3.78zM971.75,452.36h3.78v3.77h-3.78zM975.49,452.36h3.78v3.77h-3.78zM1001.63,452.36h3.78v3.77h-3.78zM1005.36,452.36h3.78v3.77h-3.78zM912.00,456.08h3.78v3.77h-3.78zM915.74,456.08h3.78v3.77h-3.78zM919.47,456.08h3.78v3.77h-3.78zM923.21,456.08h3.78v3.77h-3.78zM945.61,456.08h3.78v3.77h-3.78zM949.35,456.08h3.78v3.77h-3.78zM953.08,456.08h3.78v3.77h-3.78zM956.82,456.08h3.78v3.77h-3.78zM960.55,456.08h3.78v3.77h-3.78zM971.75,456.08h3.78v3.77h-3.78zM975.49,456.08h3.78v3.77h-3.78zM994.16,456.08h3.78v3.77h-3.78zM1005.36,456.08h3.78v3.77h-3.78zM1012.83,456.08h3.78v3.77h-3.78zM1016.57,456.08h3.78v3.77h-3.78zM904.53,459.80h3.78v3.77h-3.78zM915.74,459.80h3.78v3.77h-3.78zM919.47,459.80h3.78v3.77h-3.78zM923.21,459.80h3.78v3.77h-3.78zM926.94,459.80h3.78v3.77h-3.78zM930.67,459.80h3.78v3.77h-3.78zM949.35,459.80h3.78v3.77h-3.78zM953.08,459.80h3.78v3.77h-3.78zM960.55,459.80h3.78v3.77h-3.78zM968.02,459.80h3.78v3.77h-3.78zM971.75,459.80h3.78v3.77h-3.78zM1001.63,459.80h3.78v3.77h-3.78zM1005.36,459.80h3.78v3.77h-3.78zM1009.10,459.80h3.78v3.77h-3.78zM1012.83,459.80h3.78v3.77h-3.78zM1016.57,459.80h3.78v3.77h-3.78zM908.27,463.52h3.78v3.77h-3.78zM912.00,463.52h3.78v3.77h-3.78zM915.74,463.52h3.78v3.77h-3.78zM919.47,463.52h3.78v3.77h-3.78zM923.21,463.52h3.78v3.77h-3.78zM938.14,463.52h3.78v3.77h-3.78zM960.55,463.52h3.78v3.77h-3.78zM968.02,463.52h3.78v3.77h-3.78zM971.75,463.52h3.78v3.77h-3.78zM997.89,463.52h3.78v3.77h-3.78zM1005.36,463.52h3.78v3.77h-3.78zM1009.10,463.52h3.78v3.77h-3.78zM1012.83,463.52h3.78v3.77h-3.78zM900.80,467.24h3.78v3.77h-3.78zM904.53,467.24h3.78v3.77h-3.78zM912.00,467.24h3.78v3.77h-3.78zM919.47,467.24h3.78v3.77h-3.78zM930.67,467.24h3.78v3.77h-3.78zM956.82,467.24h3.78v3.77h-3.78zM960.55,467.24h3.78v3.77h-3.78zM964.28,467.24h3.78v3.77h-3.78zM975.49,467.24h3.78v3.77h-3.78zM979.22,467.24h3.78v3.77h-3.78zM982.96,467.24h3.78v3.77h-3.78zM994.16,467.24h3.78v3.77h-3.78zM997.89,467.24h3.78v3.77h-3.78zM1001.63,467.24h3.78v3.77h-3.78zM1005.36,467.24h3.78v3.77h-3.78zM900.80,470.96h3.78v3.77h-3.78zM908.27,470.96h3.78v3.77h-3.78zM912.00,470.96h3.78v3.77h-3.78zM919.47,470.96h3.78v3.77h-3.78zM923.21,470.96h3.78v3.77h-3.78zM930.67,470.96h3.78v3.77h-3.78zM934.41,470.96h3.78v3.77h-3.78zM938.14,470.96h3.78v3.77h-3.78zM945.61,470.96h3.78v3.77h-3.78zM956.82,470.96h3.78v3.77h-3.78zM971.75,470.96h3.78v3.77h-3.78zM982.96,470.96h3.78v3.77h-3.78zM986.69,470.96h3.78v3.77h-3.78zM994.16,470.96h3.78v3.77h-3.78zM997.89,470.96h3.78v3.77h-3.78zM1001.63,470.96h3.78v3.77h-3.78zM1005.36,470.96h3.78v3.77h-3.78zM1009.10,470.96h3.78v3.77h-3.78zM1016.57,470.96h3.78v3.77h-3.78zM900.80,474.68h3.78v3.77h-3.78zM923.21,474.68h3.78v3.77h-3.78zM934.41,474.68h3.78v3.77h-3.78zM941.88,474.68h3.78v3.77h-3.78zM949.35,474.68h3.78v3.77h-3.78zM960.55,474.68h3.78v3.77h-3.78zM975.49,474.68h3.78v3.77h-3.78zM997.89,474.68h3.78v3.77h-3.78zM1005.36,474.68h3.78v3.77h-3.78zM900.80,478.39h3.78v3.77h-3.78zM915.74,478.39h3.78v3.77h-3.78zM919.47,478.39h3.78v3.77h-3.78zM923.21,478.39h3.78v3.77h-3.78zM926.94,478.39h3.78v3.77h-3.78zM930.67,478.39h3.78v3.77h-3.78zM934.41,478.39h3.78v3.77h-3.78zM938.14,478.39h3.78v3.77h-3.78zM949.35,478.39h3.78v3.77h-3.78zM960.55,478.39h3.78v3.77h-3.78zM964.28,478.39h3.78v3.77h-3.78zM975.49,478.39h3.78v3.77h-3.78zM982.96,478.39h3.78v3.77h-3.78zM994.16,478.39h3.78v3.77h-3.78zM1005.36,478.39h3.78v3.77h-3.78zM1016.57,478.39h3.78v3.77h-3.78zM904.53,482.11h3.78v3.77h-3.78zM908.27,482.11h3.78v3.77h-3.78zM912.00,482.11h3.78v3.77h-3.78zM915.74,482.11h3.78v3.77h-3.78zM926.94,482.11h3.78v3.77h-3.78zM930.67,482.11h3.78v3.77h-3.78zM934.41,482.11h3.78v3.77h-3.78zM971.75,482.11h3.78v3.77h-3.78zM975.49,482.11h3.78v3.77h-3.78zM986.69,482.11h3.78v3.77h-3.78zM997.89,482.11h3.78v3.77h-3.78zM1001.63,482.11h3.78v3.77h-3.78zM1009.10,482.11h3.78v3.77h-3.78zM900.80,485.83h3.78v3.77h-3.78zM915.74,485.83h3.78v3.77h-3.78zM919.47,485.83h3.78v3.77h-3.78zM938.14,485.83h3.78v3.77h-3.78zM960.55,485.83h3.78v3.77h-3.78zM968.02,485.83h3.78v3.77h-3.78zM975.49,485.83h3.78v3.77h-3.78zM982.96,485.83h3.78v3.77h-3.78zM986.69,485.83h3.78v3.77h-3.78zM990.42,485.83h3.78v3.77h-3.78zM994.16,485.83h3.78v3.77h-3.78zM1001.63,485.83h3.78v3.77h-3.78zM1012.83,485.83h3.78v3.77h-3.78zM1016.57,485.83h3.78v3.77h-3.78zM900.80,489.55h3.78v3.77h-3.78zM915.74,489.55h3.78v3.77h-3.78zM926.94,489.55h3.78v3.77h-3.78zM930.67,489.55h3.78v3.77h-3.78zM934.41,489.55h3.78v3.77h-3.78zM938.14,489.55h3.78v3.77h-3.78zM945.61,489.55h3.78v3.77h-3.78zM960.55,489.55h3.78v3.77h-3.78zM964.28,489.55h3.78v3.77h-3.78zM986.69,489.55h3.78v3.77h-3.78zM1001.63,489.55h3.78v3.77h-3.78zM1005.36,489.55h3.78v3.77h-3.78zM1016.57,489.55h3.78v3.77h-3.78zM915.74,493.27h3.78v3.77h-3.78zM919.47,493.27h3.78v3.77h-3.78zM923.21,493.27h3.78v3.77h-3.78zM930.67,493.27h3.78v3.77h-3.78zM934.41,493.27h3.78v3.77h-3.78zM938.14,493.27h3.78v3.77h-3.78zM941.88,493.27h3.78v3.77h-3.78zM945.61,493.27h3.78v3.77h-3.78zM949.35,493.27h3.78v3.77h-3.78zM953.08,493.27h3.78v3.77h-3.78zM956.82,493.27h3.78v3.77h-3.78zM960.55,493.27h3.78v3.77h-3.78zM968.02,493.27h3.78v3.77h-3.78zM971.75,493.27h3.78v3.77h-3.78zM975.49,493.27h3.78v3.77h-3.78zM982.96,493.27h3.78v3.77h-3.78zM986.69,493.27h3.78v3.77h-3.78zM990.42,493.27h3.78v3.77h-3.78zM994.16,493.27h3.78v3.77h-3.78zM1001.63,493.27h3.78v3.77h-3.78zM904.53,496.99h3.78v3.77h-3.78zM908.27,496.99h3.78v3.77h-3.78zM912.00,496.99h3.78v3.77h-3.78zM923.21,496.99h3.78v3.77h-3.78zM926.94,496.99h3.78v3.77h-3.78zM930.67,496.99h3.78v3.77h-3.78zM934.41,496.99h3.78v3.77h-3.78zM938.14,496.99h3.78v3.77h-3.78zM941.88,496.99h3.78v3.77h-3.78zM945.61,496.99h3.78v3.77h-3.78zM956.82,496.99h3.78v3.77h-3.78zM960.55,496.99h3.78v3.77h-3.78zM975.49,496.99h3.78v3.77h-3.78zM982.96,496.99h3.78v3.77h-3.78zM986.69,496.99h3.78v3.77h-3.78zM990.42,496.99h3.78v3.77h-3.78zM994.16,496.99h3.78v3.77h-3.78zM1001.63,496.99h3.78v3.77h-3.78zM1009.10,496.99h3.78v3.77h-3.78zM1012.83,496.99h3.78v3.77h-3.78zM1016.57,496.99h3.78v3.77h-3.78zM900.80,500.71h3.78v3.77h-3.78zM908.27,500.71h3.78v3.77h-3.78zM923.21,500.71h3.78v3.77h-3.78zM926.94,500.71h3.78v3.77h-3.78zM930.67,500.71h3.78v3.77h-3.78zM953.08,500.71h3.78v3.77h-3.78zM956.82,500.71h3.78v3.77h-3.78zM960.55,500.71h3.78v3.77h-3.78zM971.75,500.71h3.78v3.77h-3.78zM975.49,500.71h3.78v3.77h-3.78zM990.42,500.71h3.78v3.77h-3.78zM997.89,500.71h3.78v3.77h-3.78zM1012.83,500.71h3.78v3.77h-3.78zM1016.57,500.71h3.78v3.77h-3.78zM900.80,504.43h3.78v3.77h-3.78zM912.00,504.43h3.78v3.77h-3.78zM915.74,504.43h3.78v3.77h-3.78zM919.47,504.43h3.78v3.77h-3.78zM923.21,504.43h3.78v3.77h-3.78zM926.94,504.43h3.78v3.77h-3.78zM930.67,504.43h3.78v3.77h-3.78zM934.41,504.43h3.78v3.77h-3.78zM941.88,504.43h3.78v3.77h-3.78zM949.35,504.43h3.78v3.77h-3.78zM953.08,504.43h3.78v3.77h-3.78zM956.82,504.43h3.78v3.77h-3.78zM968.02,504.43h3.78v3.77h-3.78zM971.75,504.43h3.78v3.77h-3.78zM975.49,504.43h3.78v3.77h-3.78zM979.22,504.43h3.78v3.77h-3.78zM990.42,504.43h3.78v3.77h-3.78zM1012.83,504.43h3.78v3.77h-3.78zM1016.57,504.43h3.78v3.77h-3.78zM900.80,508.14h3.78v3.77h-3.78zM908.27,508.14h3.78v3.77h-3.78zM912.00,508.14h3.78v3.77h-3.78zM915.74,508.14h3.78v3.77h-3.78zM919.47,508.14h3.78v3.77h-3.78zM923.21,508.14h3.78v3.77h-3.78zM926.94,508.14h3.78v3.77h-3.78zM930.67,508.14h3.78v3.77h-3.78zM934.41,508.14h3.78v3.77h-3.78zM938.14,508.14h3.78v3.77h-3.78zM941.88,508.14h3.78v3.77h-3.78zM953.08,508.14h3.78v3.77h-3.78zM956.82,508.14h3.78v3.77h-3.78zM960.55,508.14h3.78v3.77h-3.78zM975.49,508.14h3.78v3.77h-3.78zM986.69,508.14h3.78v3.77h-3.78zM997.89,508.14h3.78v3.77h-3.78zM1001.63,508.14h3.78v3.77h-3.78zM1016.57,508.14h3.78v3.77h-3.78zM904.53,511.86h3.78v3.77h-3.78zM923.21,511.86h3.78v3.77h-3.78zM926.94,511.86h3.78v3.77h-3.78zM934.41,511.86h3.78v3.77h-3.78zM938.14,511.86h3.78v3.77h-3.78zM941.88,511.86h3.78v3.77h-3.78zM945.61,511.86h3.78v3.77h-3.78zM949.35,511.86h3.78v3.77h-3.78zM960.55,511.86h3.78v3.77h-3.78zM964.28,511.86h3.78v3.77h-3.78zM968.02,511.86h3.78v3.77h-3.78zM971.75,511.86h3.78v3.77h-3.78zM994.16,511.86h3.78v3.77h-3.78zM997.89,511.86h3.78v3.77h-3.78zM1001.63,511.86h3.78v3.77h-3.78zM904.53,515.58h3.78v3.77h-3.78zM915.74,515.58h3.78v3.77h-3.78zM919.47,515.58h3.78v3.77h-3.78zM926.94,515.58h3.78v3.77h-3.78zM930.67,515.58h3.78v3.77h-3.78zM934.41,515.58h3.78v3.77h-3.78zM938.14,515.58h3.78v3.77h-3.78zM941.88,515.58h3.78v3.77h-3.78zM968.02,515.58h3.78v3.77h-3.78zM975.49,515.58h3.78v3.77h-3.78zM979.22,515.58h3.78v3.77h-3.78zM990.42,515.58h3.78v3.77h-3.78zM994.16,515.58h3.78v3.77h-3.78zM997.89,515.58h3.78v3.77h-3.78zM1009.10,515.58h3.78v3.77h-3.78z" fill="#313695" shape-rendering="crispEdges"/>
<rect x="900.8" y="400.3" width="119.5" height="119" fill="none" stroke="#000" stroke-width="1.1"/>
<text x="902.67" y="532.00" font-size="13.5" text-anchor="middle" >0</text>
<text transform="translate(897.60,402.16) rotate(-90)" font-size="13.5" text-anchor="middle">0</text>
<text x="940.01" y="532.00" font-size="13.5" text-anchor="middle" >10</text>
<text transform="translate(897.60,439.35) rotate(-90)" font-size="13.5" text-anchor="middle">10</text>
<text x="977.35" y="532.00" font-size="13.5" text-anchor="middle" >20</text>
<text transform="translate(897.60,476.53) rotate(-90)" font-size="13.5" text-anchor="middle">20</text>
<text x="1014.70" y="532.00" font-size="13.5" text-anchor="middle" >30</text>
<text transform="translate(897.60,513.72) rotate(-90)" font-size="13.5" text-anchor="middle">30</text>
<rect x="1110.9" y="399.8" width="119.5" height="119" fill="#a50026"/>
<path d="M1110.90,399.80h3.78v3.77h-3.78zM1118.37,399.80h3.78v3.77h-3.78zM1133.31,399.80h3.78v3.77h-3.78zM1137.04,399.80h3.78v3.77h-3.78zM1148.24,399.80h3.78v3.77h-3.78zM1151.98,399.80h3.78v3.77h-3.78zM1155.71,399.80h3.78v3.77h-3.78zM1166.92,399.80h3.78v3.77h-3.78zM1170.65,399.80h3.78v3.77h-3.78zM1174.38,399.80h3.78v3.77h-3.78zM1178.12,399.80h3.78v3.77h-3.78zM1181.85,399.80h3.78v3.77h-3.78zM1189.32,399.80h3.78v3.77h-3.78zM1193.06,399.80h3.78v3.77h-3.78zM1196.79,399.80h3.78v3.77h-3.78zM1204.26,399.80h3.78v3.77h-3.78zM1207.99,399.80h3.78v3.77h-3.78zM1226.67,399.80h3.78v3.77h-3.78zM1114.63,403.52h3.78v3.77h-3.78zM1118.37,403.52h3.78v3.77h-3.78zM1129.57,403.52h3.78v3.77h-3.78zM1133.31,403.52h3.78v3.77h-3.78zM1137.04,403.52h3.78v3.77h-3.78zM1140.78,403.52h3.78v3.77h-3.78zM1144.51,403.52h3.78v3.77h-3.78zM1155.71,403.52h3.78v3.77h-3.78zM1159.45,403.52h3.78v3.77h-3.78zM1174.38,403.52h3.78v3.77h-3.78zM1189.32,403.52h3.78v3.77h-3.78zM1200.53,403.52h3.78v3.77h-3.78zM1204.26,403.52h3.78v3.77h-3.78zM1226.67,403.52h3.78v3.77h-3.78zM1122.10,407.24h3.78v3.77h-3.78zM1133.31,407.24h3.78v3.77h-3.78zM1137.04,407.24h3.78v3.77h-3.78zM1140.78,407.24h3.78v3.77h-3.78zM1144.51,407.24h3.78v3.77h-3.78zM1163.18,407.24h3.78v3.77h-3.78zM1174.38,407.24h3.78v3.77h-3.78zM1178.12,407.24h3.78v3.77h-3.78zM1181.85,407.24h3.78v3.77h-3.78zM1185.59,407.24h3.78v3.77h-3.78zM1200.53,407.24h3.78v3.77h-3.78zM1207.99,407.24h3.78v3.77h-3.78zM1215.46,407.24h3.78v3.77h-3.78zM1226.67,407.24h3.78v3.77h-3.78zM1118.37,410.96h3.78v3.77h-3.78zM1122.10,410.96h3.78v3.77h-3.78zM1133.31,410.96h3.78v3.77h-3.78zM1137.04,410.96h3.78v3.77h-3.78zM1148.24,410.96h3.78v3.77h-3.78zM1151.98,410.96h3.78v3.77h-3.78zM1159.45,410.96h3.78v3.77h-3.78zM1170.65,410.96h3.78v3.77h-3.78zM1174.38,410.96h3.78v3.77h-3.78zM1178.12,410.96h3.78v3.77h-3.78zM1181.85,410.96h3.78v3.77h-3.78zM1196.79,410.96h3.78v3.77h-3.78zM1200.53,410.96h3.78v3.77h-3.78zM1204.26,410.96h3.78v3.77h-3.78zM1207.99,410.96h3.78v3.77h-3.78zM1211.73,410.96h3.78v3.77h-3.78zM1215.46,410.96h3.78v3.77h-3.78zM1114.63,414.68h3.78v3.77h-3.78zM1118.37,414.68h3.78v3.77h-3.78zM1122.10,414.68h3.78v3.77h-3.78zM1133.31,414.68h3.78v3.77h-3.78zM1137.04,414.68h3.78v3.77h-3.78zM1140.78,414.68h3.78v3.77h-3.78zM1144.51,414.68h3.78v3.77h-3.78zM1148.24,414.68h3.78v3.77h-3.78zM1170.65,414.68h3.78v3.77h-3.78zM1193.06,414.68h3.78v3.77h-3.78zM1196.79,414.68h3.78v3.77h-3.78zM1211.73,414.68h3.78v3.77h-3.78zM1110.90,418.39h3.78v3.77h-3.78zM1114.63,418.39h3.78v3.77h-3.78zM1118.37,418.39h3.78v3.77h-3.78zM1122.10,418.39h3.78v3.77h-3.78zM1129.57,418.39h3.78v3.77h-3.78zM1133.31,418.39h3.78v3.77h-3.78zM1137.04,418.39h3.78v3.77h-3.78zM1144.51,418.39h3.78v3.77h-3.78zM1151.98,418.39h3.78v3.77h-3.78zM1166.92,418.39h3.78v3.77h-3.78zM1170.65,418.39h3.78v3.77h-3.78zM1110.90,422.11h3.78v3.77h-3.78zM1118.37,422.11h3.78v3.77h-3.78zM1122.10,422.11h3.78v3.77h-3.78zM1125.84,422.11h3.78v3.77h-3.78zM1129.57,422.11h3.78v3.77h-3.78zM1133.31,422.11h3.78v3.77h-3.78zM1140.78,422.11h3.78v3.77h-3.78zM1148.24,422.11h3.78v3.77h-3.78zM1151.98,422.11h3.78v3.77h-3.78zM1155.71,422.11h3.78v3.77h-3.78zM1159.45,422.11h3.78v3.77h-3.78zM1163.18,422.11h3.78v3.77h-3.78zM1166.92,422.11h3.78v3.77h-3.78zM1170.65,422.11h3.78v3.77h-3.78zM1178.12,422.11h3.78v3.77h-3.78zM1185.59,422.11h3.78v3.77h-3.78zM1189.32,422.11h3.78v3.77h-3.78zM1200.53,422.11h3.78v3.77h-3.78zM1219.20,422.11h3.78v3.77h-3.78zM1226.67,422.11h3.78v3.77h-3.78zM1118.37,425.83h3.78v3.77h-3.78zM1122.10,425.83h3.78v3.77h-3.78zM1140.78,425.83h3.78v3.77h-3.78zM1148.24,425.83h3.78v3.77h-3.78zM1151.98,425.83h3.78v3.77h-3.78zM1159.45,425.83h3.78v3.77h-3.78zM1163.18,425.83h3.78v3.77h-3.78zM1166.92,425.83h3.78v3.77h-3.78zM1170.65,425.83h3.78v3.77h-3.78zM1174.38,425.83h3.78v3.77h-3.78zM1178.12,425.83h3.78v3.77h-3.78zM1181.85,425.83h3.78v3.77h-3.78zM1196.79,425.83h3.78v3.77h-3.78zM1207.99,425.83h3.78v3.77h-3.78zM1222.93,425.83h3.78v3.77h-3.78zM1226.67,425.83h3.78v3.77h-3.78zM1114.63,429.55h3.78v3.77h-3.78zM1118.37,429.55h3.78v3.77h-3.78zM1133.31,429.55h3.78v3.77h-3.78zM1144.51,429.55h3.78v3.77h-3.78zM1159.45,429.55h3.78v3.77h-3.78zM1163.18,429.55h3.78v3.77h-3.78zM1166.92,429.55h3.78v3.77h-3.78zM1170.65,429.55h3.78v3.77h-3.78zM1174.38,429.55h3.78v3.77h-3.78zM1178.12,429.55h3.78v3.77h-3.78zM1181.85,429.55h3.78v3.77h-3.78zM1185.59,429.55h3.78v3.77h-3.78zM1193.06,429.55h3.78v3.77h-3.78zM1204.26,429.55h3.78v3.77h-3.78zM1207.99,429.55h3.78v3.77h-3.78zM1211.73,429.55h3.78v3.77h-3.78zM1215.46,429.55h3.78v3.77h-3.78zM1219.20,429.55h3.78v3.77h-3.78zM1222.93,429.55h3.78v3.77h-3.78zM1226.67,429.55h3.78v3.77h-3.78zM1114.63,433.27h3.78v3.77h-3.78zM1118.37,433.27h3.78v3.77h-3.78zM1125.84,433.27h3.78v3.77h-3.78zM1129.57,433.27h3.78v3.77h-3.78zM1155.71,433.27h3.78v3.77h-3.78zM1159.45,433.27h3.78v3.77h-3.78zM1163.18,433.27h3.78v3.77h-3.78zM1170.65,433.27h3.78v3.77h-3.78zM1178.12,433.27h3.78v3.77h-3.78zM1181.85,433.27h3.78v3.77h-3.78zM1189.32,433.27h3.78v3.77h-3.78zM1200.53,433.27h3.78v3.77h-3.78zM1204.26,433.27h3.78v3.77h-3.78zM1215.46,433.27h3.78v3.77h-3.78zM1110.90,436.99h3.78v3.77h-3.78zM1114.63,436.99h3.78v3.77h-3.78zM1118.37,436.99h3.78v3.77h-3.78zM1122.10,436.99h3.78v3.77h-3.78zM1125.84,436.99h3.78v3.77h-3.78zM1129.57,436.99h3.78v3.77h-3.78zM1133.31,436.99h3.78v3.77h-3.78zM1140.78,436.99h3.78v3.77h-3.78zM1151.98,436.99h3.78v3.77h-3.78zM1155.71,436.99h3.78v3.77h-3.78zM1159.45,436.99h3.78v3.77h-3.78zM1163.18,436.99h3.78v3.77h-3.78zM1166.92,436.99h3.78v3.77h-3.78zM1185.59,436.99h3.78v3.77h-3.78zM1189.32,436.99h3.78v3.77h-3.78zM1200.53,436.99h3.78v3.77h-3.78zM1211.73,436.99h3.78v3.77h-3.78zM1219.20,436.99h3.78v3.77h-3.78zM1118.37,440.71h3.78v3.77h-3.78zM1129.57,440.71h3.78v3.77h-3.78zM1133.31,440.71h3.78v3.77h-3.78zM1137.04,440.71h3.78v3.77h-3.78zM1144.51,440.71h3.78v3.77h-3.78zM1148.24,440.71h3.78v3.77h-3.78zM1151.98,440.71h3.78v3.77h-3.78zM1155.71,440.71h3.78v3.77h-3.78zM1159.45,440.71h3.78v3.77h-3.78zM1163.18,440.71h3.78v3.77h-3.78zM1166.92,440.71h3.78v3.77h-3.78zM1189.32,440.71h3.78v3.77h-3.78zM1196.79,440.71h3.78v3.77h-3.78zM1200.53,440.71h3.78v3.77h-3.78zM1204.26,440.71h3.78v3.77h-3.78zM1222.93,440.71h3.78v3.77h-3.78zM1133.31,444.43h3.78v3.77h-3.78zM1137.04,444.43h3.78v3.77h-3.78zM1144.51,444.43h3.78v3.77h-3.78zM1148.24,444.43h3.78v3.77h-3.78zM1151.98,444.43h3.78v3.77h-3.78zM1155.71,444.43h3.78v3.77h-3.78zM1166.92,444.43h3.78v3.77h-3.78zM1178.12,444.43h3.78v3.77h-3.78zM1185.59,444.43h3.78v3.77h-3.78zM1196.79,444.43h3.78v3.77h-3.78zM1200.53,444.43h3.78v3.77h-3.78zM1204.26,444.43h3.78v3.77h-3.78zM1207.99,444.43h3.78v3.77h-3.78zM1222.93,444.43h3.78v3.77h-3.78zM1226.67,444.43h3.78v3.77h-3.78zM1110.90,448.14h3.78v3.77h-3.78zM1114.63,448.14h3.78v3.77h-3.78zM1129.57,448.14h3.78v3.77h-3.78zM1133.31,448.14h3.78v3.77h-3.78zM1166.92,448.14h3.78v3.77h-3.78zM1170.65,448.14h3.78v3.77h-3.78zM1181.85,448.14h3.78v3.77h-3.78zM1185.59,448.14h3.78v3.77h-3.78zM1189.32,448.14h3.78v3.77h-3.78zM1200.53,448.14h3.78v3.77h-3.78zM1215.46,448.14h3.78v3.77h-3.78zM1114.63,451.86h3.78v3.77h-3.78zM1137.04,451.86h3.78v3.77h-3.78zM1148.24,451.86h3.78v3.77h-3.78zM1159.45,451.86h3.78v3.77h-3.78zM1170.65,451.86h3.78v3.77h-3.78zM1174.38,451.86h3.78v3.77h-3.78zM1181.85,451.86h3.78v3.77h-3.78zM1185.59,451.86h3.78v3.77h-3.78zM1189.32,451.86h3.78v3.77h-3.78zM1196.79,451.86h3.78v3.77h-3.78zM1204.26,451.86h3.78v3.77h-3.78zM1211.73,451.86h3.78v3.77h-3.78zM1215.46,451.86h3.78v3.77h-3.78zM1222.93,451.86h3.78v3.77h-3.78zM1110.90,455.58h3.78v3.77h-3.78zM1118.37,455.58h3.78v3.77h-3.78zM1122.10,455.58h3.78v3.77h-3.78zM1148.24,455.58h3.78v3.77h-3.78zM1151.98,455.58h3.78v3.77h-3.78zM1155.71,455.58h3.78v3.77h-3.78zM1159.45,455.58h3.78v3.77h-3.78zM1163.18,455.58h3.78v3.77h-3.78zM1174.38,455.58h3.78v3.77h-3.78zM1178.12,455.58h3.78v3.77h-3.78zM1181.85,455.58h3.78v3.77h-3.78zM1185.59,455.58h3.78v3.77h-3.78zM1193.06,455.58h3.78v3.77h-3.78zM1196.79,455.58h3.78v3.77h-3.78zM1207.99,455.58h3.78v3.77h-3.78zM1211.73,455.58h3.78v3.77h-3.78zM1215.46,455.58h3.78v3.77h-3.78zM1219.20,455.58h3.78v3.77h-3.78zM1114.63,459.30h3.78v3.77h-3.78zM1118.37,459.30h3.78v3.77h-3.78zM1133.31,459.30h3.78v3.77h-3.78zM1137.04,459.30h3.78v3.77h-3.78zM1144.51,459.30h3.78v3.77h-3.78zM1151.98,459.30h3.78v3.77h-3.78zM1155.71,459.30h3.78v3.77h-3.78zM1159.45,459.30h3.78v3.77h-3.78zM1163.18,459.30h3.78v3.77h-3.78zM1178.12,459.30h3.78v3.77h-3.78zM1181.85,459.30h3.78v3.77h-3.78zM1185.59,459.30h3.78v3.77h-3.78zM1189.32,459.30h3.78v3.77h-3.78zM1193.06,459.30h3.78v3.77h-3.78zM1200.53,459.30h3.78v3.77h-3.78zM1211.73,459.30h3.78v3.77h-3.78zM1118.37,463.02h3.78v3.77h-3.78zM1122.10,463.02h3.78v3.77h-3.78zM1155.71,463.02h3.78v3.77h-3.78zM1159.45,463.02h3.78v3.77h-3.78zM1166.92,463.02h3.78v3.77h-3.78zM1170.65,463.02h3.78v3.77h-3.78zM1189.32,463.02h3.78v3.77h-3.78zM1193.06,463.02h3.78v3.77h-3.78zM1196.79,463.02h3.78v3.77h-3.78zM1207.99,463.02h3.78v3.77h-3.78zM1219.20,463.02h3.78v3.77h-3.78zM1222.93,463.02h3.78v3.77h-3.78zM1114.63,466.74h3.78v3.77h-3.78zM1151.98,466.74h3.78v3.77h-3.78zM1163.18,466.74h3.78v3.77h-3.78zM1174.38,466.74h3.78v3.77h-3.78zM1189.32,466.74h3.78v3.77h-3.78zM1196.79,466.74h3.78v3.77h-3.78zM1200.53,466.74h3.78v3.77h-3.78zM1204.26,466.74h3.78v3.77h-3.78zM1207.99,466.74h3.78v3.77h-3.78zM1211.73,466.74h3.78v3.77h-3.78zM1215.46,466.74h3.78v3.77h-3.78zM1222.93,466.74h3.78v3.77h-3.78zM1226.67,466.74h3.78v3.77h-3.78zM1114.63,470.46h3.78v3.77h-3.78zM1118.37,470.46h3.78v3.77h-3.78zM1125.84,470.46h3.78v3.77h-3.78zM1137.04,470.46h3.78v3.77h-3.78zM1140.78,470.46h3.78v3.77h-3.78zM1151.98,470.46h3.78v3.77h-3.78zM1155.71,470.46h3.78v3.77h-3.78zM1159.45,470.46h3.78v3.77h-3.78zM1163.18,470.46h3.78v3.77h-3.78zM1178.12,470.46h3.78v3.77h-3.78zM1185.59,470.46h3.78v3.77h-3.78zM1196.79,470.46h3.78v3.77h-3.78zM1200.53,470.46h3.78v3.77h-3.78zM1204.26,470.46h3.78v3.77h-3.78zM1207.99,470.46h3.78v3.77h-3.78zM1211.73,470.46h3.78v3.77h-3.78zM1222.93,470.46h3.78v3.77h-3.78zM1226.67,470.46h3.78v3.77h-3.78zM1110.90,474.18h3.78v3.77h-3.78zM1114.63,474.18h3.78v3.77h-3.78zM1118.37,474.18h3.78v3.77h-3.78zM1122.10,474.18h3.78v3.77h-3.78zM1125.84,474.18h3.78v3.77h-3.78zM1133.31,474.18h3.78v3.77h-3.78zM1140.78,474.18h3.78v3.77h-3.78zM1148.24,474.18h3.78v3.77h-3.78zM1151.98,474.18h3.78v3.77h-3.78zM1163.18,474.18h3.78v3.77h-3.78zM1189.32,474.18h3.78v3.77h-3.78zM1196.79,474.18h3.78v3.77h-3.78zM1200.53,474.18h3.78v3.77h-3.78zM1222.93,474.18h3.78v3.77h-3.78zM1226.67,474.18h3.78v3.77h-3.78zM1110.90,477.89h3.78v3.77h-3.78zM1114.63,477.89h3.78v3.77h-3.78zM1118.37,477.89h3.78v3.77h-3.78zM1122.10,477.89h3.78v3.77h-3.78zM1125.84,477.89h3.78v3.77h-3.78zM1137.04,477.89h3.78v3.77h-3.78zM1140.78,477.89h3.78v3.77h-3.78zM1151.98,477.89h3.78v3.77h-3.78zM1163.18,477.89h3.78v3.77h-3.78zM1170.65,477.89h3.78v3.77h-3.78zM1174.38,477.89h3.78v3.77h-3.78zM1185.59,477.89h3.78v3.77h-3.78zM1189.32,477.89h3.78v3.77h-3.78zM1193.06,477.89h3.78v3.77h-3.78zM1196.79,477.89h3.78v3.77h-3.78zM1200.53,477.89h3.78v3.77h-3.78zM1204.26,477.89h3.78v3.77h-3.78zM1222.93,477.89h3.78v3.77h-3.78zM1110.90,481.61h3.78v3.77h-3.78zM1114.63,481.61h3.78v3.77h-3.78zM1118.37,481.61h3.78v3.77h-3.78zM1140.78,481.61h3.78v3.77h-3.78zM1144.51,481.61h3.78v3.77h-3.78zM1148.24,481.61h3.78v3.77h-3.78zM1174.38,481.61h3.78v3.77h-3.78zM1181.85,481.61h3.78v3.77h-3.78zM1189.32,481.61h3.78v3.77h-3.78zM1193.06,481.61h3.78v3.77h-3.78zM1196.79,481.61h3.78v3.77h-3.78zM1200.53,481.61h3.78v3.77h-3.78zM1204.26,481.61h3.78v3.77h-3.78zM1207.99,481.61h3.78v3.77h-3.78zM1211.73,481.61h3.78v3.77h-3.78zM1226.67,481.61h3.78v3.77h-3.78zM1110.90,485.33h3.78v3.77h-3.78zM1114.63,485.33h3.78v3.77h-3.78zM1118.37,485.33h3.78v3.77h-3.78zM1122.10,485.33h3.78v3.77h-3.78zM1140.78,485.33h3.78v3.77h-3.78zM1144.51,485.33h3.78v3.77h-3.78zM1163.18,485.33h3.78v3.77h-3.78zM1174.38,485.33h3.78v3.77h-3.78zM1178.12,485.33h3.78v3.77h-3.78zM1181.85,485.33h3.78v3.77h-3.78zM1189.32,485.33h3.78v3.77h-3.78zM1193.06,485.33h3.78v3.77h-3.78zM1204.26,485.33h3.78v3.77h-3.78zM1207.99,485.33h3.78v3.77h-3.78zM1211.73,485.33h3.78v3.77h-3.78zM1215.46,485.33h3.78v3.77h-3.78zM1222.93,485.33h3.78v3.77h-3.78zM1110.90,489.05h3.78v3.77h-3.78zM1114.63,489.05h3.78v3.77h-3.78zM1118.37,489.05h3.78v3.77h-3.78zM1122.10,489.05h3.78v3.77h-3.78zM1137.04,489.05h3.78v3.77h-3.78zM1140.78,489.05h3.78v3.77h-3.78zM1148.24,489.05h3.78v3.77h-3.78zM1155.71,489.05h3.78v3.77h-3.78zM1159.45,489.05h3.78v3.77h-3.78zM1163.18,489.05h3.78v3.77h-3.78zM1166.92,489.05h3.78v3.77h-3.78zM1170.65,489.05h3.78v3.77h-3.78zM1174.38,489.05h3.78v3.77h-3.78zM1178.12,489.05h3.78v3.77h-3.78zM1185.59,489.05h3.78v3.77h-3.78zM1189.32,489.05h3.78v3.77h-3.78zM1193.06,489.05h3.78v3.77h-3.78zM1196.79,489.05h3.78v3.77h-3.78zM1200.53,489.05h3.78v3.77h-3.78zM1207.99,489.05h3.78v3.77h-3.78zM1211.73,489.05h3.78v3.77h-3.78zM1219.20,489.05h3.78v3.77h-3.78zM1222.93,489.05h3.78v3.77h-3.78zM1110.90,492.77h3.78v3.77h-3.78zM1114.63,492.77h3.78v3.77h-3.78zM1118.37,492.77h3.78v3.77h-3.78zM1140.78,492.77h3.78v3.77h-3.78zM1144.51,492.77h3.78v3.77h-3.78zM1155.71,492.77h3.78v3.77h-3.78zM1159.45,492.77h3.78v3.77h-3.78zM1166.92,492.77h3.78v3.77h-3.78zM1170.65,492.77h3.78v3.77h-3.78zM1174.38,492.77h3.78v3.77h-3.78zM1178.12,492.77h3.78v3.77h-3.78zM1185.59,492.77h3.78v3.77h-3.78zM1196.79,492.77h3.78v3.77h-3.78zM1207.99,492.77h3.78v3.77h-3.78zM1211.73,492.77h3.78v3.77h-3.78zM1215.46,492.77h3.78v3.77h-3.78zM1226.67,492.77h3.78v3.77h-3.78zM1110.90,496.49h3.78v3.77h-3.78zM1118.37,496.49h3.78v3.77h-3.78zM1125.84,496.49h3.78v3.77h-3.78zM1129.57,496.49h3.78v3.77h-3.78zM1133.31,496.49h3.78v3.77h-3.78zM1137.04,496.49h3.78v3.77h-3.78zM1140.78,496.49h3.78v3.77h-3.78zM1144.51,496.49h3.78v3.77h-3.78zM1163.18,496.49h3.78v3.77h-3.78zM1166.92,496.49h3.78v3.77h-3.78zM1170.65,496.49h3.78v3.77h-3.78zM1174.38,496.49h3.78v3.77h-3.78zM1178.12,496.49h3.78v3.77h-3.78zM1204.26,496.49h3.78v3.77h-3.78zM1207.99,496.49h3.78v3.77h-3.78zM1215.46,496.49h3.78v3.77h-3.78zM1219.20,496.49h3.78v3.77h-3.78zM1222.93,496.49h3.78v3.77h-3.78zM1226.67,496.49h3.78v3.77h-3.78zM1114.63,500.21h3.78v3.77h-3.78zM1122.10,500.21h3.78v3.77h-3.78zM1125.84,500.21h3.78v3.77h-3.78zM1129.57,500.21h3.78v3.77h-3.78zM1133.31,500.21h3.78v3.77h-3.78zM1137.04,500.21h3.78v3.77h-3.78zM1140.78,500.21h3.78v3.77h-3.78zM1144.51,500.21h3.78v3.77h-3.78zM1148.24,500.21h3.78v3.77h-3.78zM1166.92,500.21h3.78v3.77h-3.78zM1178.12,500.21h3.78v3.77h-3.78zM1185.59,500.21h3.78v3.77h-3.78zM1189.32,500.21h3.78v3.77h-3.78zM1196.79,500.21h3.78v3.77h-3.78zM1219.20,500.21h3.78v3.77h-3.78zM1222.93,500.21h3.78v3.77h-3.78zM1110.90,503.93h3.78v3.77h-3.78zM1118.37,503.93h3.78v3.77h-3.78zM1122.10,503.93h3.78v3.77h-3.78zM1125.84,503.93h3.78v3.77h-3.78zM1129.57,503.93h3.78v3.77h-3.78zM1137.04,503.93h3.78v3.77h-3.78zM1140.78,503.93h3.78v3.77h-3.78zM1144.51,503.93h3.78v3.77h-3.78zM1148.24,503.93h3.78v3.77h-3.78zM1155.71,503.93h3.78v3.77h-3.78zM1159.45,503.93h3.78v3.77h-3.78zM1163.18,503.93h3.78v3.77h-3.78zM1170.65,503.93h3.78v3.77h-3.78zM1174.38,503.93h3.78v3.77h-3.78zM1189.32,503.93h3.78v3.77h-3.78zM1193.06,503.93h3.78v3.77h-3.78zM1211.73,503.93h3.78v3.77h-3.78zM1222.93,503.93h3.78v3.77h-3.78zM1114.63,507.64h3.78v3.77h-3.78zM1125.84,507.64h3.78v3.77h-3.78zM1133.31,507.64h3.78v3.77h-3.78zM1140.78,507.64h3.78v3.77h-3.78zM1144.51,507.64h3.78v3.77h-3.78zM1148.24,507.64h3.78v3.77h-3.78zM1151.98,507.64h3.78v3.77h-3.78zM1159.45,507.64h3.78v3.77h-3.78zM1163.18,507.64h3.78v3.77h-3.78zM1166.92,507.64h3.78v3.77h-3.78zM1178.12,507.64h3.78v3.77h-3.78zM1181.85,507.64h3.78v3.77h-3.78zM1189.32,507.64h3.78v3.77h-3.78zM1211.73,507.64h3.78v3.77h-3.78zM1219.20,507.64h3.78v3.77h-3.78zM1222.93,507.64h3.78v3.77h-3.78zM1129.57,511.36h3.78v3.77h-3.78zM1133.31,511.36h3.78v3.77h-3.78zM1151.98,511.36h3.78v3.77h-3.78zM1155.71,511.36h3.78v3.77h-3.78zM1159.45,511.36h3.78v3.77h-3.78zM1163.18,511.36h3.78v3.77h-3.78zM1166.92,511.36h3.78v3.77h-3.78zM1170.65,511.36h3.78v3.77h-3.78zM1178.12,511.36h3.78v3.77h-3.78zM1196.79,511.36h3.78v3.77h-3.78zM1200.53,511.36h3.78v3.77h-3.78zM1207.99,511.36h3.78v3.77h-3.78zM1219.20,511.36h3.78v3.77h-3.78zM1222.93,511.36h3.78v3.77h-3.78zM1226.67,511.36h3.78v3.77h-3.78zM1110.90,515.08h3.78v3.77h-3.78zM1114.63,515.08h3.78v3.77h-3.78zM1155.71,515.08h3.78v3.77h-3.78zM1159.45,515.08h3.78v3.77h-3.78zM1163.18,515.08h3.78v3.77h-3.78zM1166.92,515.08h3.78v3.77h-3.78zM1170.65,515.08h3.78v3.77h-3.78zM1174.38,515.08h3.78v3.77h-3.78zM1193.06,515.08h3.78v3.77h-3.78zM1200.53,515.08h3.78v3.77h-3.78zM1204.26,515.08h3.78v3.77h-3.78zM1215.46,515.08h3.78v3.77h-3.78zM1219.20,515.08h3.78v3.77h-3.78zM1222.93,515.08h3.78v3.77h-3.78zM1226.67,515.08h3.78v3.77h-3.78z" fill="#313695" shape-rendering="crispEdges"/>
<rect x="1110.9" y="399.8" width="119.5" height="119" fill="none" stroke="#000" stroke-width="1.1"/>
<text x="1112.77" y="531.50" font-size="13.5" text-anchor="middle" >0</text>
<text transform="translate(1107.70,401.66) rotate(-90)" font-size="13.5" text-anchor="middle">0</text>
<text x="1150.11" y="531.50" font-size="13.5" text-anchor="middle" >10</text>
<text transform="translate(1107.70,438.85) rotate(-90)" font-size="13.5" text-anchor="middle">10</text>
<text x="1187.45" y="531.50" font-size="13.5" text-anchor="middle" >20</text>
<text transform="translate(1107.70,476.03) rotate(-90)" font-size="13.5" text-anchor="middle">20</text>
<text x="1224.80" y="531.50" font-size="13.5" text-anchor="middle" >30</text>
<text transform="translate(1107.70,513.22) rotate(-90)" font-size="13.5" text-anchor="middle">30</text>
<text x="815.60" y="448.80" font-size="12.75" >Reconfigure</text>
<polygon points="812.9,455 874.4,455 874.4,451 885.1,458.9 874.4,466.8 874.4,462.8 812.9,462.8" fill="#ddb95a"/>
<text x="1025.70" y="448.80" font-size="12.75" >Reconfigure</text>
<polygon points="1023,455 1084.5,455 1084.5,451 1095.2,458.9 1084.5,466.8 1084.5,462.8 1023,462.8" fill="#ddb95a"/>
<text x="996.70" y="543.70" font-size="14" font-weight="bold" >Privacy preserved!</text>
<path d="M957.7,529 C964.7,529 967.7,534 967.5,540 C967.2,548 962.7,553.5 957.7,553.5 C952.7,553.5 948.2,548 947.9000000000001,540 C947.7,534 950.7,529 957.7,529 Z" fill="#24232f"/>
<path d="M936.1,576.6 L936.1,568 C936.1,561 942.7,558 950.7,558 L969.7,558 L964.7,576.6 Z" fill="#24232f"/>
<path d="M968.4000000000001,562 L968.4000000000001,556 C968.4000000000001,549 981.1000000000001,549 981.1000000000001,556 L981.1000000000001,562" fill="none" stroke="#24232f" stroke-width="2.3"/>
<rect x="964.40" y="550.20" width="0" height="0"/>
<rect x="965.40" y="562.20" width="18.4" height="14.4" rx="1.5" fill="#fff" stroke="#24232f" stroke-width="2"/>
<rect x="973.60" y="568.50" width="2.2" height="3" fill="#24232f"/>
<path d="M1172.6,529 C1179.6,529 1182.6,534 1182.3999999999999,540 C1182.1,548 1177.6,553.5 1172.6,553.5 C1167.6,553.5 1163.1,548 1162.8,540 C1162.6,534 1165.6,529 1172.6,529 Z" fill="#24232f"/>
<path d="M1151.0,576.6 L1151.0,568 C1151.0,561 1157.6,558 1165.6,558 L1184.6,558 L1179.6,576.6 Z" fill="#24232f"/>
<path d="M1183.3,562 L1183.3,556 C1183.3,549 1196.0,549 1196.0,556 L1196.0,562" fill="none" stroke="#24232f" stroke-width="2.3"/>
<rect x="1179.30" y="550.20" width="0" height="0"/>
<rect x="1180.30" y="562.20" width="18.4" height="14.4" rx="1.5" fill="#fff" stroke="#24232f" stroke-width="2"/>
<rect x="1188.50" y="568.50" width="2.2" height="3" fill="#24232f"/>
<rect x="924.2" y="582.3" width="67" height="21.5" fill="#e3c161"/>
<text x="957.80" y="597.80" font-size="12.3" text-anchor="middle" >Owner A</text>
<rect x="1139" y="582.3" width="67" height="21.5" fill="#e3c161"/>
<text x="1172.50" y="597.80" font-size="12.3" text-anchor="middle" >Owner B</text>
<rect x="1024.2" y="553.3" width="74.2" height="33" rx="6" fill="none" stroke="#6f9ecb" stroke-width="1.8" stroke-dasharray="5 4"/>
<text x="1060.90" y="567.20" font-size="12.2" text-anchor="middle" >Owner</text>
<text x="1061.00" y="582.10" font-size="12.4" text-anchor="middle" >exchange</text>
<line x1="995.20" y1="593.30" x2="1120.00" y2="593.30" stroke="#6f9ecb" stroke-width="4"/><polygon points="1133.00,593.30 1119.00,599.80 1119.00,586.80" fill="#6f9ecb"/>
</svg></body></html>
